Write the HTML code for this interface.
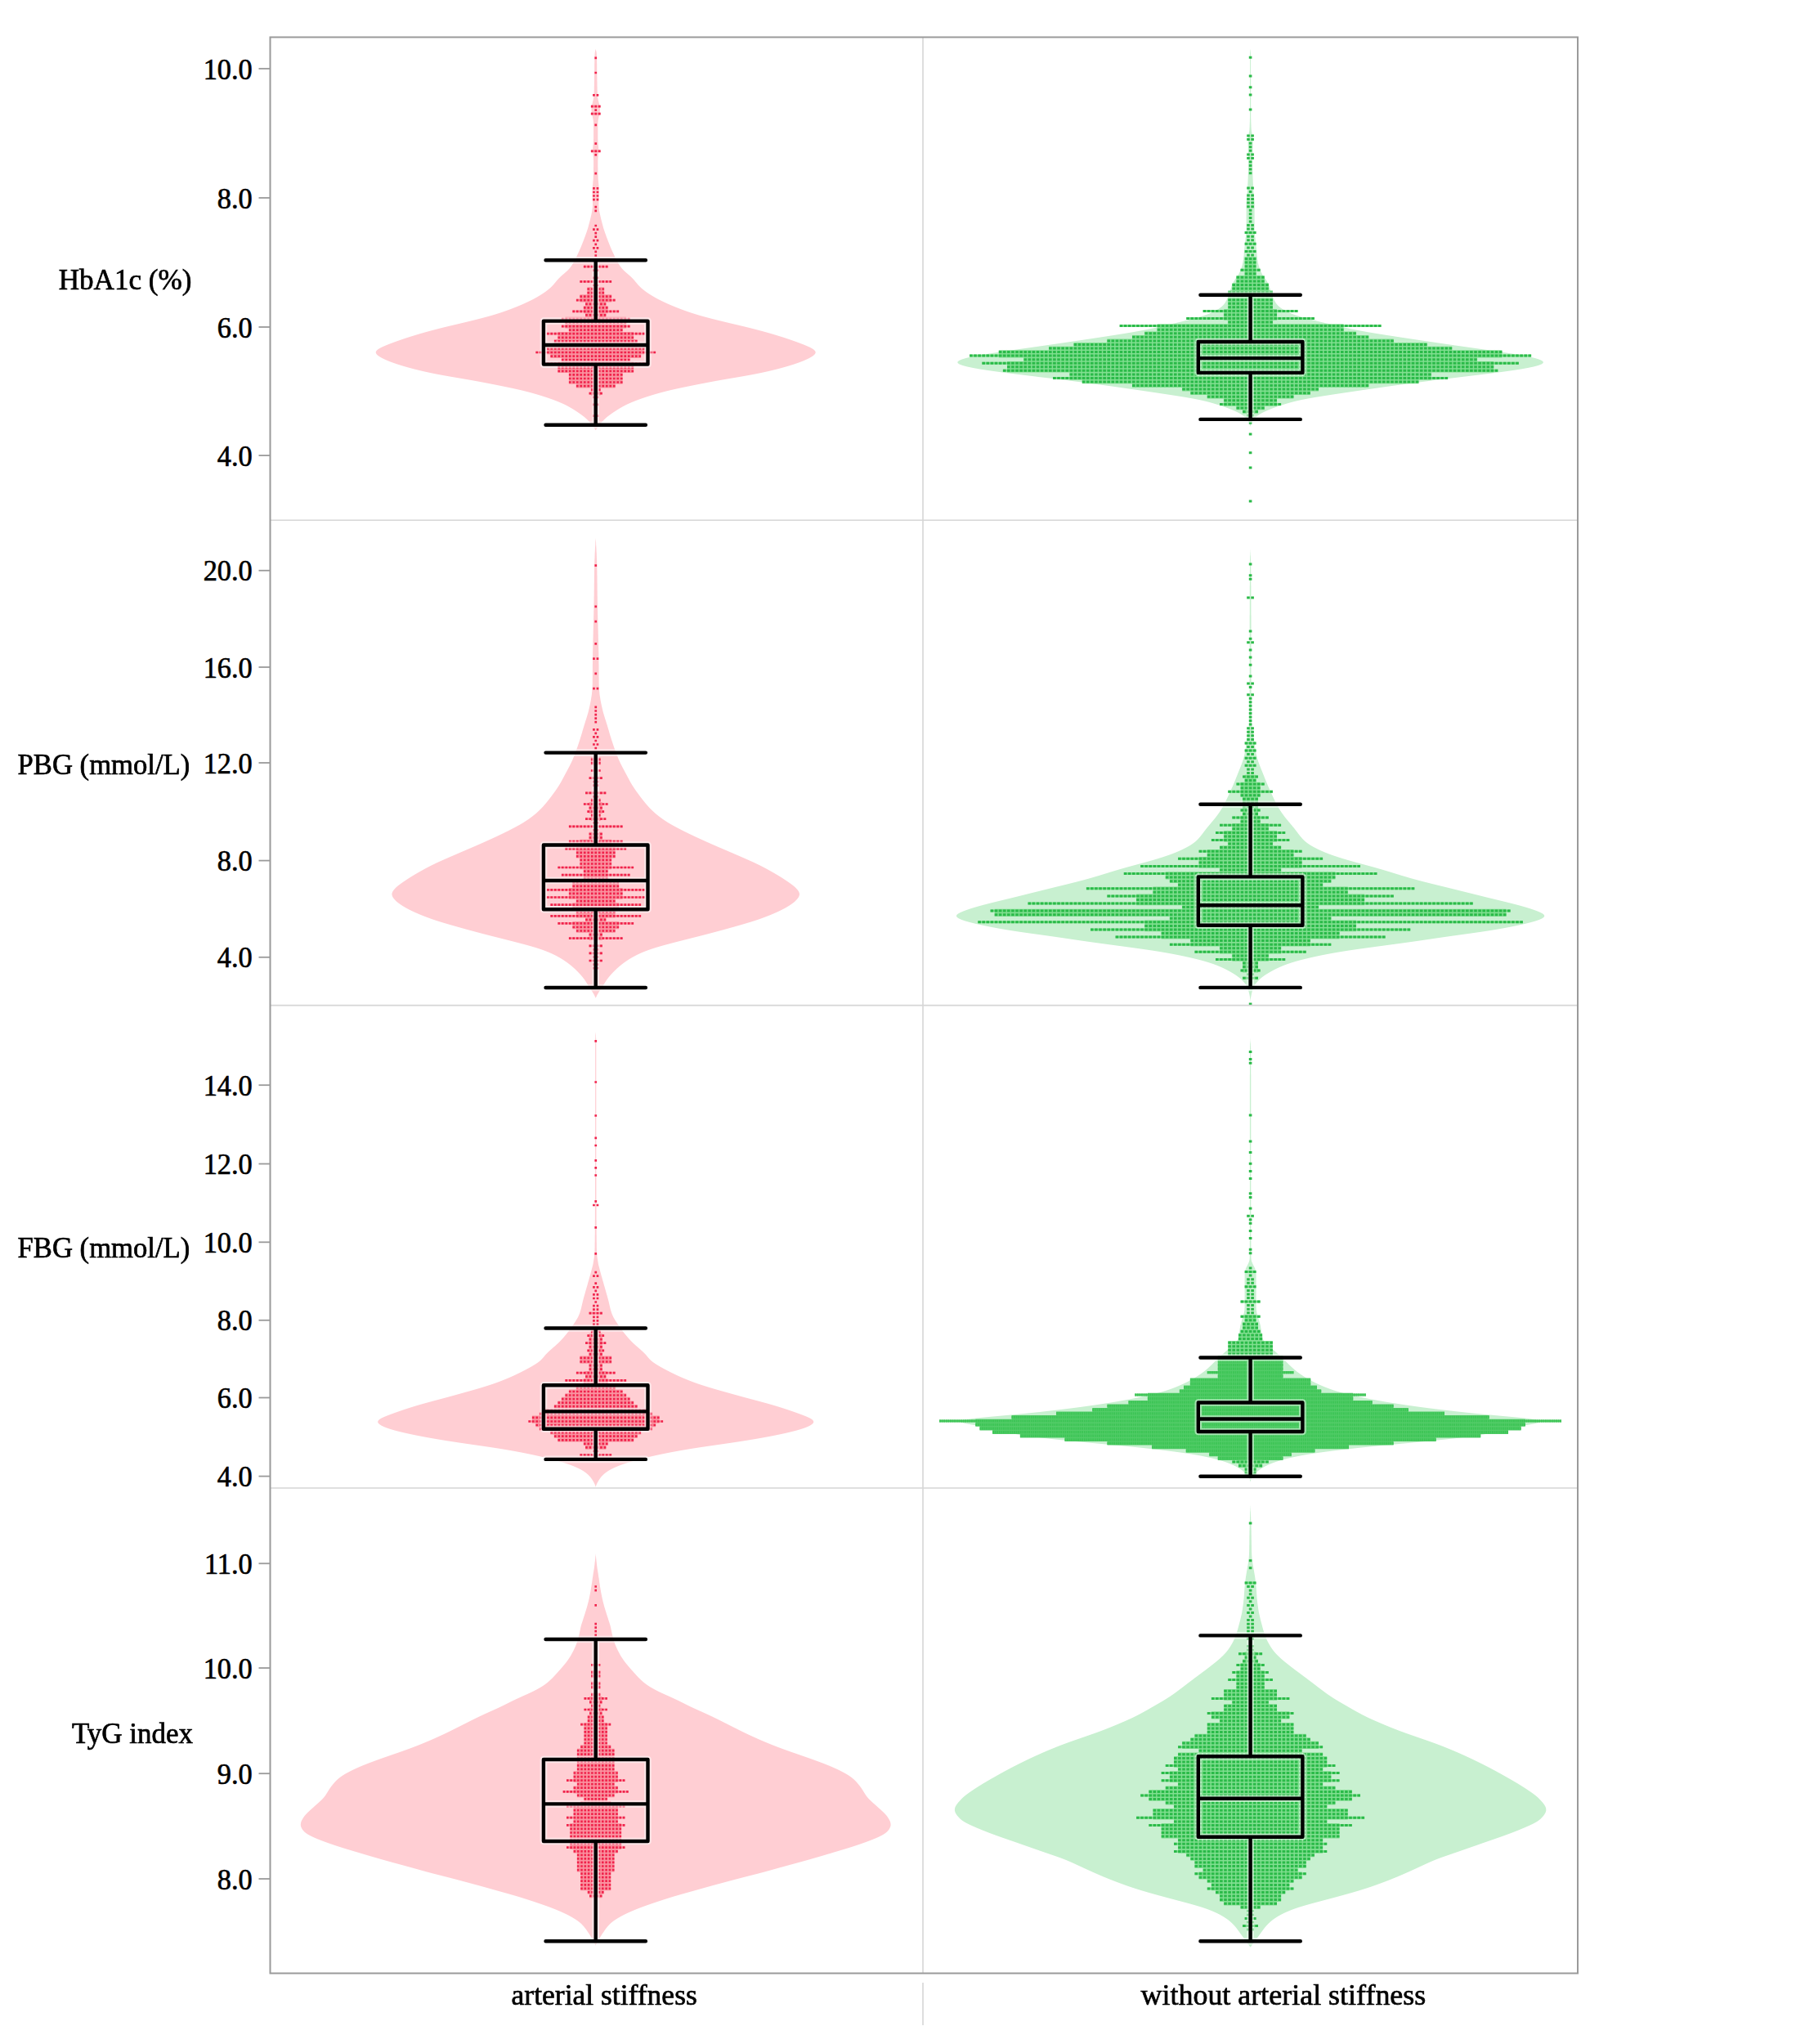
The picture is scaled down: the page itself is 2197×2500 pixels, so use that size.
<!DOCTYPE html>
<html lang="en">
<head>
<meta charset="utf-8">
<title>Violin plots</title>
<style>html,body{margin:0;padding:0;background:#fff}svg{display:block}</style>
</head>
<body>
<svg width="2197" height="2500" viewBox="0 0 2197 2500">
<defs><filter id="sb" x="-5%" y="-5%" width="110%" height="110%"><feGaussianBlur stdDeviation="0.6"/></filter></defs>
<rect width="2197" height="2500" fill="#fff"/>
<g id="v1L">
<path d="M728.7 60L728.3 61.5L728 63L727.7 64.5L727.6 66L727.5 67.5L727.4 69L727.4 70.5L727.3 72L727.3 73.5L727.3 75L727.3 76.5L727.2 78L727.2 79.5L727.2 81L727.2 82.5L727.2 84L727.2 85.5L727.1 87L727.1 88.5L727.1 90L727.1 91.5L727.1 93L727 94.5L727 96L727 97.5L727 99L726.9 100.5L726.9 102L726.9 103.5L726.9 105L726.8 106.5L726.8 108L726.8 109.5L726.7 111L726.7 112.5L726.6 114L726.6 115.5L726.5 117L726.3 118.5L726.1 120L725.8 121.5L725.5 123L725.1 124.5L724.7 126L724.4 127.5L724 129L723.7 130.5L723.5 132L723.4 133.5L723.5 135L723.6 136.5L723.8 138L724.1 139.5L724.4 141L724.8 142.5L725.1 144L725.4 145.5L725.7 147L725.9 148.5L726 150L726.1 151.5L726.1 153L726.1 154.5L726.1 156L726.1 157.5L726.1 159L726.1 160.5L726.1 162L726.1 163.5L726.1 165L726.1 166.5L726.1 168L726.1 169.5L726 171L726 172.5L725.9 174L725.7 175.5L725.6 177L725.5 178.5L725.3 180L725.2 181.5L725.2 183L725.2 184.5L725.3 186L725.4 187.5L725.5 189L725.7 190.5L725.8 192L725.9 193.5L726 195L726.1 196.5L726.1 198L726.1 199.5L726.1 201L726.1 202.5L726.1 204L726 205.5L726 207L726 208.5L726 210L726 211.5L725.9 213L725.9 214.5L725.8 216L725.8 217.5L725.7 219L725.6 220.5L725.4 222L725.3 223.5L725.2 225L725 226.5L724.9 228L724.8 229.5L724.7 231L724.6 232.5L724.6 234L724.5 235.5L724.6 237L724.6 238.5L724.7 240L724.7 241.5L724.8 243L724.9 244.5L725 246L725 247.5L725 249L725 250.5L725 252L724.9 253.5L724.7 255L724.5 256.5L724.3 258L724 259.5L723.7 261L723.4 262.5L723 264L722.7 265.5L722.3 267L722 268.5L721.6 270L721.2 271.5L720.8 273L720.4 274.5L720 276L719.6 277.5L719.2 279L718.7 280.5L718.2 282L717.7 283.5L717.2 285L716.6 286.5L716.1 288L715.6 289.5L715 291L714.4 292.5L713.9 294L713.3 295.5L712.7 297L712.1 298.5L711.5 300L710.9 301.5L710.3 303L709.6 304.5L709 306L708.3 307.5L707.6 309L706.9 310.5L706.2 312L705.5 313.5L704.7 315L704 316.5L703.2 318L702.4 319.5L701.6 321L700.7 322.5L699.8 324L698.8 325.5L697.7 327L696.5 328.5L695.1 330L693.6 331.5L691.9 333L690.2 334.5L688.4 336L686.7 337.5L685.1 339L683.6 340.5L682.2 342L680.9 343.5L679.7 345L678.4 346.5L677.2 348L675.8 349.5L674.3 351L672.7 352.5L670.9 354L669 355.5L667 357L664.8 358.5L662.5 360L660.1 361.5L657.6 363L655 364.5L652.2 366L649.2 367.5L646.1 369L642.9 370.5L639.6 372L636.1 373.5L632.5 375L628.7 376.5L624.9 378L620.8 379.5L616.6 381L612.2 382.5L607.5 384L602.6 385.5L597.3 387L591.7 388.5L586 390L580 391.5L573.9 393L567.7 394.5L561.4 396L555 397.5L548.7 399L542.5 400.5L536.5 402L530.8 403.5L525.1 405L519.7 406.5L514.4 408L509.4 409.5L504.5 411L499.7 412.5L495.1 414L490.7 415.5L486.4 417L482.2 418.5L478.2 420L474.3 421.5L470.7 423L467.3 424.5L464.4 426L462.1 427.5L460.5 429L459.7 430.5L459.9 432L460.9 433.5L462.5 435L464.8 436.5L467.4 438L470.5 439.5L473.9 441L477.6 442.5L481.7 444L486.1 445.5L490.9 447L495.9 448.5L501.3 450L506.9 451.5L513 453L519.4 454.5L526.3 456L533.7 457.5L541.7 459L550.2 460.5L558.9 462L567.8 463.5L576.4 465L584.7 466.5L592.6 468L600.4 469.5L608 471L615.4 472.5L622.7 474L629.7 475.5L636.4 477L642.5 478.5L648.3 480L653.7 481.5L658.8 483L663.7 484.5L668.3 486L672.7 487.5L676.9 489L680.8 490.5L684.5 492L688 493.5L691.2 495L694.1 496.5L696.8 498L699.4 499.5L701.9 501L704.2 502.5L706.5 504L708.7 505.5L710.8 507L712.8 508.5L714.8 510L716.5 511.5L718.1 513L719.6 514.5L721 516L722.3 517.5L723.5 519L724.7 520.5L725.8 522L726.8 523.5L727.9 525L728.7 526.2L728.7 526.2L729.5 525L730.6 523.5L731.6 522L732.7 520.5L733.9 519L735.1 517.5L736.4 516L737.8 514.5L739.3 513L740.9 511.5L742.6 510L744.6 508.5L746.6 507L748.7 505.5L750.9 504L753.2 502.5L755.5 501L758 499.5L760.6 498L763.3 496.5L766.2 495L769.4 493.5L772.9 492L776.6 490.5L780.5 489L784.7 487.5L789.1 486L793.7 484.5L798.6 483L803.7 481.5L809.1 480L814.9 478.5L821 477L827.7 475.5L834.7 474L842 472.5L849.4 471L857 469.5L864.8 468L872.7 466.5L881 465L889.6 463.5L898.5 462L907.2 460.5L915.7 459L923.7 457.5L931.1 456L938 454.5L944.4 453L950.5 451.5L956.1 450L961.5 448.5L966.5 447L971.3 445.5L975.7 444L979.8 442.5L983.5 441L986.9 439.5L990 438L992.6 436.5L994.9 435L996.5 433.5L997.5 432L997.7 430.5L996.9 429L995.3 427.5L993 426L990.1 424.5L986.7 423L983.1 421.5L979.2 420L975.2 418.5L971 417L966.7 415.5L962.3 414L957.7 412.5L952.9 411L948 409.5L943 408L937.7 406.5L932.3 405L926.6 403.5L920.9 402L914.9 400.5L908.7 399L902.4 397.5L896 396L889.7 394.5L883.5 393L877.4 391.5L871.4 390L865.7 388.5L860.1 387L854.8 385.5L849.9 384L845.2 382.5L840.8 381L836.6 379.5L832.5 378L828.7 376.5L824.9 375L821.3 373.5L817.8 372L814.5 370.5L811.3 369L808.2 367.5L805.2 366L802.4 364.5L799.8 363L797.3 361.5L794.9 360L792.6 358.5L790.4 357L788.4 355.5L786.5 354L784.7 352.5L783.1 351L781.6 349.5L780.2 348L779 346.5L777.7 345L776.5 343.5L775.2 342L773.8 340.5L772.3 339L770.7 337.5L769 336L767.2 334.5L765.5 333L763.8 331.5L762.3 330L760.9 328.5L759.7 327L758.6 325.5L757.6 324L756.7 322.5L755.8 321L755 319.5L754.2 318L753.4 316.5L752.7 315L751.9 313.5L751.2 312L750.5 310.5L749.8 309L749.1 307.5L748.4 306L747.8 304.5L747.1 303L746.5 301.5L745.9 300L745.3 298.5L744.7 297L744.1 295.5L743.5 294L743 292.5L742.4 291L741.8 289.5L741.3 288L740.8 286.5L740.2 285L739.7 283.5L739.2 282L738.7 280.5L738.2 279L737.8 277.5L737.4 276L737 274.5L736.6 273L736.2 271.5L735.8 270L735.4 268.5L735.1 267L734.7 265.5L734.4 264L734 262.5L733.7 261L733.4 259.5L733.1 258L732.9 256.5L732.7 255L732.5 253.5L732.4 252L732.4 250.5L732.4 249L732.4 247.5L732.4 246L732.5 244.5L732.6 243L732.7 241.5L732.7 240L732.8 238.5L732.8 237L732.9 235.5L732.8 234L732.8 232.5L732.7 231L732.6 229.5L732.5 228L732.4 226.5L732.2 225L732.1 223.5L732 222L731.8 220.5L731.7 219L731.6 217.5L731.6 216L731.5 214.5L731.5 213L731.4 211.5L731.4 210L731.4 208.5L731.4 207L731.4 205.5L731.3 204L731.3 202.5L731.3 201L731.3 199.5L731.3 198L731.3 196.5L731.4 195L731.5 193.5L731.6 192L731.7 190.5L731.9 189L732 187.5L732.1 186L732.2 184.5L732.2 183L732.2 181.5L732.1 180L731.9 178.5L731.8 177L731.7 175.5L731.5 174L731.4 172.5L731.4 171L731.3 169.5L731.3 168L731.3 166.5L731.3 165L731.3 163.5L731.3 162L731.3 160.5L731.3 159L731.3 157.5L731.3 156L731.3 154.5L731.3 153L731.3 151.5L731.4 150L731.5 148.5L731.7 147L732 145.5L732.3 144L732.6 142.5L733 141L733.3 139.5L733.6 138L733.8 136.5L733.9 135L734 133.5L733.9 132L733.7 130.5L733.4 129L733 127.5L732.7 126L732.3 124.5L731.9 123L731.6 121.5L731.3 120L731.1 118.5L730.9 117L730.8 115.5L730.8 114L730.7 112.5L730.7 111L730.6 109.5L730.6 108L730.6 106.5L730.5 105L730.5 103.5L730.5 102L730.5 100.5L730.4 99L730.4 97.5L730.4 96L730.4 94.5L730.3 93L730.3 91.5L730.3 90L730.3 88.5L730.3 87L730.2 85.5L730.2 84L730.2 82.5L730.2 81L730.2 79.5L730.2 78L730.1 76.5L730.1 75L730.1 73.5L730.1 72L730 70.5L730 69L729.9 67.5L729.8 66L729.7 64.5L729.4 63L729.1 61.5L728.7 60Z" fill="#ffced3"/>
<g filter="url(#sb)">
<path d="M718.4 353.5H739.1M718.4 358.1H739.1M709.4 362.6H748.1M709.4 367.2H748.1M716.1 371.8H741.3M713.9 376.3H743.6M713.9 380.9H743.6M716.1 385.4H741.3M691.4 390H766.1M691.4 394.6H766.1M691.4 399.1H766.1M695.9 403.7H761.6M682.4 408.2H775.1M682.4 412.8H775.1M677.9 417.4H779.6M677.9 421.9H779.6M668.9 426.5H788.6M668.9 431H788.6M673.4 435.6H784.1M686.9 440.2H770.6M682.4 444.7H775.1M682.4 449.3H775.1M682.4 453.8H775.1M695.9 458.4H761.6M695.9 463H761.6M695.9 467.5H761.6M704.9 472.1H752.6M722.9 476.6H734.6M722.9 481.2H734.6" stroke="#f98896" stroke-width="4.6" fill="none" opacity="0.85"/>
<path d="M722.9 130.1H734.6M722.9 139.2H734.6M722.9 184.8H734.6M713.9 326.2H743.6M709.4 344.4H748.1M704.9 367.2H752.6M700.4 380.9H757.1M686.9 390H770.6M686.9 399.1H770.6M668.9 408.2H788.6M655.4 431H802.1M664.4 444.7H793.1M720.6 481.2H736.8" stroke="#f98896" stroke-width="2.7" fill="none" opacity="0.85"/>
<path d="M727.4 70.8H730.1M727.4 89H730.1M725.1 116.4H732.3M722.9 130.1H734.6M727.4 134.6H730.1M722.9 139.2H734.6M727.4 152.9H730.1M727.4 175.7H730.1M722.9 184.8H734.6M727.4 189.4H730.1M727.4 212.2H730.1M725.1 230.4H732.3M725.1 235H732.3M725.1 239.5H732.3M725.1 244.1H732.3M727.4 253.2H730.1M727.4 257.8H730.1M727.4 276H730.1M725.1 280.6H732.3M727.4 285.1H730.1M727.4 289.7H730.1M725.1 294.2H732.3M727.4 298.8H730.1M725.1 303.4H732.3M727.4 307.9H730.1M727.4 312.5H730.1M713.9 326.2H743.6M725.1 330.7H732.3M727.4 335.3H730.1M725.1 339.8H732.3M709.4 344.4H748.1M725.1 349H732.3M718.4 353.5H739.1M718.4 358.1H739.1M709.4 362.6H748.1M704.9 367.2H752.6M716.1 371.8H741.3M713.9 376.3H743.6M700.4 380.9H757.1M716.1 385.4H741.3M686.9 390H770.6M691.4 394.6H766.1M686.9 399.1H770.6M695.9 403.7H761.6M668.9 408.2H788.6M682.4 412.8H775.1M677.9 417.4H779.6M677.9 421.9H779.6M668.9 426.5H788.6M655.4 431H802.1M673.4 435.6H784.1M686.9 440.2H770.6M664.4 444.7H793.1M682.4 449.3H775.1M682.4 453.8H775.1M695.9 458.4H761.6M695.9 463H761.6M695.9 467.5H761.6M704.9 472.1H752.6M722.9 476.6H734.6M720.6 481.2H736.8M725.1 485.8H732.3M727.4 490.3H730.1M725.1 494.9H732.3M727.4 499.4H730.1M727.4 504H730.1M725.1 508.6H732.3M727.4 513.1H730.1M727.4 517.7H730.1" stroke="#f0244c" stroke-width="2.7" stroke-dasharray="2.7 1.8" fill="none"/>
</g>
</g>
<g id="v1R">
<path d="M1529.6 60L1529.4 61.5L1529.3 63L1529.2 64.5L1529.1 66L1529.1 67.5L1529.1 69L1529.1 70.5L1529.1 72L1529.1 73.5L1529.1 75L1529.1 76.5L1529.1 78L1529.1 79.5L1529.1 81L1529.1 82.5L1529.1 84L1529.1 85.5L1529.1 87L1529.1 88.5L1529.1 90L1529.1 91.5L1529 93L1529 94.5L1529 96L1529 97.5L1529 99L1529 100.5L1529 102L1529 103.5L1529 105L1529 106.5L1529 108L1529 109.5L1529 111L1529 112.5L1529 114L1529 115.5L1529 117L1529 118.5L1529 120L1529 121.5L1529 123L1529 124.5L1529 126L1529 127.5L1529 129L1529 130.5L1529 132L1529 133.5L1529 135L1529 136.5L1529 138L1529 139.5L1529 141L1529 142.5L1529 144L1528.9 145.5L1528.9 147L1528.9 148.5L1528.8 150L1528.8 151.5L1528.7 153L1528.7 154.5L1528.6 156L1528.5 157.5L1528.4 159L1528.2 160.5L1527.9 162L1527.6 163.5L1527.2 165L1527 166.5L1526.8 168L1526.7 169.5L1526.6 171L1526.6 172.5L1526.7 174L1526.7 175.5L1526.7 177L1526.7 178.5L1526.8 180L1526.8 181.5L1526.8 183L1526.9 184.5L1526.9 186L1526.9 187.5L1527 189L1527 190.5L1527 192L1527 193.5L1527.1 195L1527.1 196.5L1527.1 198L1527.1 199.5L1527.1 201L1527.1 202.5L1527.1 204L1527 205.5L1527 207L1527 208.5L1526.9 210L1526.9 211.5L1526.8 213L1526.8 214.5L1526.7 216L1526.7 217.5L1526.6 219L1526.5 220.5L1526.5 222L1526.4 223.5L1526.3 225L1526.3 226.5L1526.2 228L1526.1 229.5L1526 231L1525.9 232.5L1525.8 234L1525.7 235.5L1525.5 237L1525.4 238.5L1525.2 240L1525.1 241.5L1525 243L1524.9 244.5L1524.8 246L1524.7 247.5L1524.6 249L1524.6 250.5L1524.6 252L1524.6 253.5L1524.6 255L1524.6 256.5L1524.6 258L1524.6 259.5L1524.6 261L1524.6 262.5L1524.6 264L1524.6 265.5L1524.6 267L1524.6 268.5L1524.6 270L1524.6 271.5L1524.6 273L1524.6 274.5L1524.6 276L1524.6 277.5L1524.6 279L1524.6 280.5L1524.5 282L1524.4 283.5L1524.3 285L1524.2 286.5L1524.1 288L1523.9 289.5L1523.7 291L1523.5 292.5L1523.3 294L1523.1 295.5L1523 297L1522.8 298.5L1522.6 300L1522.5 301.5L1522.3 303L1522.2 304.5L1522.1 306L1521.9 307.5L1521.8 309L1521.7 310.5L1521.6 312L1521.4 313.5L1521.2 315L1521.1 316.5L1520.9 318L1520.6 319.5L1520.4 321L1520 322.5L1519.7 324L1519.2 325.5L1518.8 327L1518.3 328.5L1517.7 330L1517.1 331.5L1516.4 333L1515.7 334.5L1514.8 336L1513.9 337.5L1512.8 339L1511.8 340.5L1510.7 342L1509.7 343.5L1508.8 345L1508.1 346.5L1507.4 348L1506.8 349.5L1506.3 351L1505.8 352.5L1505.3 354L1504.8 355.5L1504.3 357L1503.8 358.5L1503.3 360L1502.7 361.5L1502.2 363L1501.5 364.5L1500.9 366L1500.2 367.5L1499.4 369L1498.5 370.5L1497.4 372L1496.1 373.5L1494.5 375L1492.6 376.5L1490.4 378L1487.8 379.5L1484.9 381L1481.7 382.5L1478.2 384L1474.2 385.5L1469.6 387L1464.5 388.5L1459 390L1453 391.5L1446.9 393L1440.6 394.5L1434.4 396L1428 397.5L1421.6 399L1414.9 400.5L1407.9 402L1400.5 403.5L1392.6 405L1384.1 406.5L1375.1 408L1365.7 409.5L1356 411L1346.2 412.5L1336.3 414L1326.3 415.5L1316.3 417L1306.1 418.5L1295.9 420L1285.6 421.5L1275.2 423L1264.7 424.5L1254.1 426L1243.6 427.5L1233.2 429L1223.1 430.5L1213.4 432L1204 433.5L1195.4 435L1187.9 436.5L1181.6 438L1176.7 439.5L1173.2 441L1171.4 442.5L1171.5 444L1173.6 445.5L1177.6 447L1183.2 448.5L1190.4 450L1198.8 451.5L1208.5 453L1219.1 454.5L1230.3 456L1242.1 457.5L1254.3 459L1266.7 460.5L1279.1 462L1291.4 463.5L1303.5 465L1315.4 466.5L1327 468L1338.3 469.5L1349.3 471L1360.1 472.5L1370.7 474L1381.1 475.5L1391.5 477L1401.8 478.5L1411.9 480L1421.9 481.5L1431.8 483L1441.5 484.5L1450.8 486L1459.3 487.5L1467 489L1473.7 490.5L1479.6 492L1484.8 493.5L1489.7 495L1494.3 496.5L1498.7 498L1502.8 499.5L1506.6 501L1510.1 502.5L1513.3 504L1516.2 505.5L1518.7 507L1520.9 508.5L1522.7 510L1524.2 511.5L1525.5 513L1526.6 514.5L1527.5 516L1528.2 517.5L1528.8 519L1529.3 520.5L1529.6 522L1529.6 522L1529.9 520.5L1530.4 519L1531 517.5L1531.7 516L1532.6 514.5L1533.7 513L1535 511.5L1536.5 510L1538.3 508.5L1540.5 507L1543 505.5L1545.9 504L1549.1 502.5L1552.6 501L1556.4 499.5L1560.5 498L1564.9 496.5L1569.5 495L1574.4 493.5L1579.6 492L1585.5 490.5L1592.2 489L1599.9 487.5L1608.4 486L1617.7 484.5L1627.4 483L1637.3 481.5L1647.3 480L1657.4 478.5L1667.7 477L1678.1 475.5L1688.5 474L1699.1 472.5L1709.9 471L1720.9 469.5L1732.2 468L1743.8 466.5L1755.7 465L1767.8 463.5L1780.1 462L1792.5 460.5L1804.9 459L1817.1 457.5L1828.9 456L1840.1 454.5L1850.7 453L1860.4 451.5L1868.8 450L1876 448.5L1881.6 447L1885.6 445.5L1887.7 444L1887.8 442.5L1886 441L1882.5 439.5L1877.6 438L1871.3 436.5L1863.8 435L1855.2 433.5L1845.8 432L1836.1 430.5L1826 429L1815.6 427.5L1805.1 426L1794.5 424.5L1784 423L1773.6 421.5L1763.3 420L1753.1 418.5L1742.9 417L1732.9 415.5L1722.9 414L1713 412.5L1703.2 411L1693.5 409.5L1684.1 408L1675.1 406.5L1666.6 405L1658.7 403.5L1651.3 402L1644.3 400.5L1637.6 399L1631.2 397.5L1624.8 396L1618.6 394.5L1612.3 393L1606.2 391.5L1600.2 390L1594.7 388.5L1589.6 387L1585 385.5L1581 384L1577.5 382.5L1574.3 381L1571.4 379.5L1568.8 378L1566.6 376.5L1564.7 375L1563.1 373.5L1561.8 372L1560.7 370.5L1559.8 369L1559 367.5L1558.3 366L1557.7 364.5L1557 363L1556.5 361.5L1555.9 360L1555.4 358.5L1554.9 357L1554.4 355.5L1553.9 354L1553.4 352.5L1552.9 351L1552.4 349.5L1551.8 348L1551.1 346.5L1550.4 345L1549.5 343.5L1548.5 342L1547.4 340.5L1546.4 339L1545.3 337.5L1544.4 336L1543.5 334.5L1542.8 333L1542.1 331.5L1541.5 330L1540.9 328.5L1540.4 327L1540 325.5L1539.5 324L1539.2 322.5L1538.8 321L1538.6 319.5L1538.3 318L1538.1 316.5L1538 315L1537.8 313.5L1537.6 312L1537.5 310.5L1537.4 309L1537.3 307.5L1537.1 306L1537 304.5L1536.9 303L1536.7 301.5L1536.6 300L1536.4 298.5L1536.2 297L1536.1 295.5L1535.9 294L1535.7 292.5L1535.5 291L1535.3 289.5L1535.1 288L1535 286.5L1534.9 285L1534.8 283.5L1534.7 282L1534.6 280.5L1534.6 279L1534.6 277.5L1534.6 276L1534.6 274.5L1534.6 273L1534.6 271.5L1534.6 270L1534.6 268.5L1534.6 267L1534.6 265.5L1534.6 264L1534.6 262.5L1534.6 261L1534.6 259.5L1534.6 258L1534.6 256.5L1534.6 255L1534.6 253.5L1534.6 252L1534.6 250.5L1534.6 249L1534.5 247.5L1534.4 246L1534.3 244.5L1534.2 243L1534.1 241.5L1534 240L1533.8 238.5L1533.7 237L1533.5 235.5L1533.4 234L1533.3 232.5L1533.2 231L1533.1 229.5L1533 228L1532.9 226.5L1532.9 225L1532.8 223.5L1532.7 222L1532.7 220.5L1532.6 219L1532.5 217.5L1532.5 216L1532.4 214.5L1532.4 213L1532.3 211.5L1532.3 210L1532.2 208.5L1532.2 207L1532.2 205.5L1532.1 204L1532.1 202.5L1532.1 201L1532.1 199.5L1532.1 198L1532.1 196.5L1532.1 195L1532.2 193.5L1532.2 192L1532.2 190.5L1532.2 189L1532.3 187.5L1532.3 186L1532.3 184.5L1532.4 183L1532.4 181.5L1532.4 180L1532.5 178.5L1532.5 177L1532.5 175.5L1532.5 174L1532.6 172.5L1532.6 171L1532.5 169.5L1532.4 168L1532.2 166.5L1532 165L1531.6 163.5L1531.3 162L1531 160.5L1530.8 159L1530.7 157.5L1530.6 156L1530.5 154.5L1530.5 153L1530.4 151.5L1530.4 150L1530.3 148.5L1530.3 147L1530.3 145.5L1530.2 144L1530.2 142.5L1530.2 141L1530.2 139.5L1530.2 138L1530.2 136.5L1530.2 135L1530.2 133.5L1530.2 132L1530.2 130.5L1530.2 129L1530.2 127.5L1530.2 126L1530.2 124.5L1530.2 123L1530.2 121.5L1530.2 120L1530.2 118.5L1530.2 117L1530.2 115.5L1530.2 114L1530.2 112.5L1530.2 111L1530.2 109.5L1530.2 108L1530.2 106.5L1530.2 105L1530.2 103.5L1530.2 102L1530.2 100.5L1530.2 99L1530.2 97.5L1530.2 96L1530.2 94.5L1530.2 93L1530.1 91.5L1530.1 90L1530.1 88.5L1530.1 87L1530.1 85.5L1530.1 84L1530.1 82.5L1530.1 81L1530.1 79.5L1530.1 78L1530.1 76.5L1530.1 75L1530.1 73.5L1530.1 72L1530.1 70.5L1530.1 69L1530.1 67.5L1530.1 66L1530 64.5L1529.9 63L1529.8 61.5L1529.6 60Z" fill="#c8f0d0"/>
<g filter="url(#sb)">
<path d="M1522.7 316.5H1536.5M1522.7 321.1H1536.5M1522.7 325.7H1536.5M1522.7 330.2H1536.5M1522.7 334.8H1536.5M1512.5 339.3H1546.7M1512.5 343.9H1546.7M1507.4 348.5H1551.8M1507.4 353H1551.8M1502.3 357.6H1556.9M1502.3 362.1H1556.9M1502.3 366.7H1556.9M1502.3 371.3H1556.9M1502.3 375.8H1556.9M1497.2 380.4H1562M1497.2 384.9H1562M1497.2 389.5H1562M1502.3 394.1H1556.9M1415.6 398.6H1643.6M1415.6 403.2H1643.6M1400.3 407.7H1658.9M1385 412.3H1674.2M1354.4 416.9H1704.8M1313.6 421.4H1745.6M1283 426H1776.2M1221.8 430.5H1837.4M1221.8 435.1H1837.4M1252.4 439.7H1806.8M1232 444.2H1827.2M1232 448.8H1827.2M1232 453.3H1827.2M1308.5 457.9H1750.7M1308.5 462.5H1750.7M1323.8 467H1735.4M1385 471.6H1674.2M1446.2 476.1H1613M1456.4 480.7H1602.8M1476.8 485.3H1582.4M1497.2 489.8H1562M1497.2 494.4H1562M1512.5 498.9H1546.7M1520.1 503.5H1539" stroke="#74dc86" stroke-width="4.6" fill="none" opacity="0.85"/>
<path d="M1522.7 284.6H1536.5M1522.7 298.3H1536.5M1522.7 307.4H1536.5M1517.6 330.2H1541.6M1471.7 380.4H1587.5M1451.3 389.5H1607.9M1369.7 398.6H1689.5M1186.1 435.1H1873.1M1201.4 444.2H1857.8M1226.9 453.3H1832.3M1288.1 462.5H1771.1M1492.1 494.4H1567.1" stroke="#74dc86" stroke-width="3" fill="none" opacity="0.85"/>
<path d="M1527.8 70.3H1531.4M1527.8 93.1H1531.4M1527.8 106.8H1531.4M1527.8 115.9H1531.4M1527.8 134.1H1531.4M1525.2 166.1H1533.9M1525.2 170.6H1533.9M1527.8 175.2H1531.4M1527.8 179.7H1531.4M1527.8 184.3H1531.4M1525.2 188.9H1533.9M1525.2 193.4H1533.9M1527.8 198H1531.4M1527.8 202.5H1531.4M1527.8 207.1H1531.4M1527.8 211.7H1531.4M1525.2 229.9H1533.9M1527.8 234.5H1531.4M1525.2 239H1533.9M1525.2 243.6H1533.9M1525.2 248.1H1533.9M1525.2 252.7H1533.9M1527.8 257.3H1531.4M1527.8 261.8H1531.4M1527.8 266.4H1531.4M1527.8 270.9H1531.4M1525.2 275.5H1533.9M1525.2 280.1H1533.9M1522.7 284.6H1536.5M1525.2 289.2H1533.9M1525.2 293.7H1533.9M1522.7 298.3H1536.5M1525.2 302.9H1533.9M1522.7 307.4H1536.5M1525.2 312H1533.9M1522.7 316.5H1536.5M1522.7 321.1H1536.5M1522.7 325.7H1536.5M1517.6 330.2H1541.6M1522.7 334.8H1536.5M1512.5 339.3H1546.7M1512.5 343.9H1546.7M1507.4 348.5H1551.8M1507.4 353H1551.8M1502.3 357.6H1556.9M1502.3 362.1H1556.9M1502.3 366.7H1556.9M1502.3 371.3H1556.9M1502.3 375.8H1556.9M1471.7 380.4H1587.5M1497.2 384.9H1562M1451.3 389.5H1607.9M1502.3 394.1H1556.9M1369.7 398.6H1689.5M1415.6 403.2H1643.6M1400.3 407.7H1658.9M1385 412.3H1674.2M1354.4 416.9H1704.8M1313.6 421.4H1745.6M1283 426H1776.2M1221.8 430.5H1837.4M1186.1 435.1H1873.1M1252.4 439.7H1806.8M1201.4 444.2H1857.8M1232 448.8H1827.2M1226.9 453.3H1832.3M1308.5 457.9H1750.7M1288.1 462.5H1771.1M1323.8 467H1735.4M1385 471.6H1674.2M1446.2 476.1H1613M1456.4 480.7H1602.8M1476.8 485.3H1582.4M1497.2 489.8H1562M1492.1 494.4H1567.1M1512.5 498.9H1546.7M1520.1 503.5H1539M1525.2 508.1H1533.9M1527.8 512.6H1531.4M1527.8 517.2H1531.4M1527.8 530.9H1531.4M1527.8 553.7H1531.4M1527.8 571.9H1531.4M1527.8 612.9H1531.4" stroke="#2cba48" stroke-width="3" stroke-dasharray="3.6 1.5" fill="none"/>
</g>
</g>
<g id="v2L">
<path d="M728.7 658L728.6 659.5L728.5 661L728.4 662.5L728.3 664L728.3 665.5L728.2 667L728.1 668.5L728 670L727.9 671.5L727.9 673L727.8 674.5L727.7 676L727.6 677.5L727.6 679L727.5 680.5L727.5 682L727.4 683.5L727.3 685L727.3 686.5L727.3 688L727.2 689.5L727.2 691L727.1 692.5L727.1 694L727.1 695.5L727.1 697L727 698.5L727 700L727 701.5L727 703L726.9 704.5L726.9 706L726.9 707.5L726.9 709L726.9 710.5L726.9 712L726.8 713.5L726.8 715L726.8 716.5L726.8 718L726.8 719.5L726.8 721L726.7 722.5L726.7 724L726.7 725.5L726.7 727L726.7 728.5L726.6 730L726.6 731.5L726.6 733L726.6 734.5L726.6 736L726.5 737.5L726.5 739L726.5 740.5L726.5 742L726.4 743.5L726.4 745L726.4 746.5L726.3 748L726.3 749.5L726.3 751L726.2 752.5L726.2 754L726.2 755.5L726.1 757L726.1 758.5L726.1 760L726 761.5L726 763L725.9 764.5L725.9 766L725.9 767.5L725.8 769L725.8 770.5L725.7 772L725.7 773.5L725.7 775L725.6 776.5L725.6 778L725.6 779.5L725.5 781L725.5 782.5L725.4 784L725.4 785.5L725.4 787L725.3 788.5L725.3 790L725.3 791.5L725.2 793L725.2 794.5L725.2 796L725.1 797.5L725.1 799L725.1 800.5L725.1 802L725 803.5L725 805L725 806.5L725 808L725 809.5L725 811L724.9 812.5L724.9 814L724.9 815.5L724.9 817L724.9 818.5L724.9 820L724.9 821.5L724.9 823L724.9 824.5L724.9 826L724.9 827.5L724.8 829L724.8 830.5L724.8 832L724.8 833.5L724.8 835L724.8 836.5L724.7 838L724.7 839.5L724.6 841L724.6 842.5L724.4 844L724.3 845.5L724.1 847L724 848.5L723.8 850L723.6 851.5L723.3 853L723.1 854.5L722.9 856L722.6 857.5L722.3 859L722 860.5L721.7 862L721.4 863.5L721 865L720.7 866.5L720.3 868L720 869.5L719.6 871L719.2 872.5L718.7 874L718.3 875.5L717.8 877L717.4 878.5L716.9 880L716.4 881.5L715.9 883L715.5 884.5L715 886L714.5 887.5L714.1 889L713.6 890.5L713.2 892L712.7 893.5L712.3 895L711.9 896.5L711.4 898L711 899.5L710.5 901L710 902.5L709.6 904L709.1 905.5L708.6 907L708.1 908.5L707.6 910L707.1 911.5L706.6 913L706.1 914.5L705.5 916L705 917.5L704.4 919L703.9 920.5L703.3 922L702.7 923.5L702.1 925L701.5 926.5L700.9 928L700.3 929.5L699.6 931L698.9 932.5L698.2 934L697.4 935.5L696.7 937L695.9 938.5L695.1 940L694.3 941.5L693.5 943L692.7 944.5L691.9 946L691.1 947.5L690.3 949L689.5 950.5L688.7 952L687.9 953.5L687.1 955L686.3 956.5L685.4 958L684.5 959.5L683.6 961L682.6 962.5L681.6 964L680.6 965.5L679.6 967L678.5 968.5L677.4 970L676.3 971.5L675.2 973L674.1 974.5L672.9 976L671.8 977.5L670.6 979L669.4 980.5L668.2 982L666.9 983.5L665.6 985L664.3 986.5L662.9 988L661.4 989.5L659.9 991L658.3 992.5L656.7 994L655 995.5L653.1 997L651.2 998.5L649.2 1000L647.2 1001.5L645 1003L642.7 1004.5L640.4 1006L637.9 1007.5L635.3 1009L632.5 1010.5L629.8 1012L626.9 1013.5L624 1015L621.1 1016.5L618 1018L615 1019.5L611.8 1021L608.7 1022.5L605.5 1024L602.2 1025.5L598.9 1027L595.6 1028.5L592.3 1030L588.9 1031.5L585.5 1033L582.1 1034.5L578.6 1036L575.1 1037.5L571.6 1039L568.1 1040.5L564.6 1042L561.1 1043.5L557.7 1045L554.2 1046.5L550.7 1048L547.3 1049.5L543.9 1051L540.5 1052.5L537.1 1054L533.9 1055.5L530.8 1057L527.7 1058.5L524.8 1060L521.9 1061.5L519.1 1063L516.4 1064.5L513.7 1066L511.1 1067.5L508.5 1069L506 1070.5L503.5 1072L501.1 1073.5L498.8 1075L496.5 1076.5L494.3 1078L492.1 1079.5L490 1081L488 1082.5L486.1 1084L484.4 1085.5L483 1087L481.7 1088.5L480.6 1090L479.9 1091.5L479.4 1093L479.5 1094.5L479.9 1096L480.6 1097.5L481.7 1099L483 1100.5L484.4 1102L486.1 1103.5L488.1 1105L490.2 1106.5L492.5 1108L495 1109.5L497.6 1111L500.5 1112.5L503.5 1114L506.7 1115.5L510.1 1117L513.6 1118.5L517.3 1120L521.2 1121.5L525.2 1123L529.4 1124.5L533.9 1126L538.6 1127.5L543.6 1129L548.7 1130.5L553.9 1132L559.2 1133.5L564.5 1135L569.9 1136.5L575.4 1138L581 1139.5L586.6 1141L592.3 1142.5L598.1 1144L604 1145.5L610 1147L615.9 1148.5L621.8 1150L627.7 1151.5L633.5 1153L639.2 1154.5L644.8 1156L650.1 1157.5L655.2 1159L659.9 1160.5L664.2 1162L668.2 1163.5L671.9 1165L675.3 1166.5L678.4 1168L681.3 1169.5L684 1171L686.6 1172.5L689 1174L691.2 1175.5L693.4 1177L695.4 1178.5L697.3 1180L699.2 1181.5L700.9 1183L702.6 1184.5L704.2 1186L705.7 1187.5L707.2 1189L708.6 1190.5L710 1192L711.3 1193.5L712.6 1195L713.7 1196.5L714.9 1198L715.9 1199.5L716.9 1201L717.8 1202.5L718.7 1204L719.6 1205.5L720.6 1207L721.6 1208.5L722.6 1210L723.6 1211.5L724.6 1213L725.5 1214.5L726.4 1216L727.2 1217.5L727.9 1219L728.6 1220.5L728.7 1220.6L728.7 1220.6L728.8 1220.5L729.5 1219L730.2 1217.5L731 1216L731.9 1214.5L732.8 1213L733.8 1211.5L734.8 1210L735.8 1208.5L736.8 1207L737.8 1205.5L738.7 1204L739.6 1202.5L740.5 1201L741.5 1199.5L742.5 1198L743.7 1196.5L744.8 1195L746.1 1193.5L747.4 1192L748.8 1190.5L750.2 1189L751.7 1187.5L753.2 1186L754.8 1184.5L756.5 1183L758.2 1181.5L760.1 1180L762 1178.5L764 1177L766.2 1175.5L768.4 1174L770.8 1172.5L773.4 1171L776.1 1169.5L779 1168L782.1 1166.5L785.5 1165L789.2 1163.5L793.2 1162L797.5 1160.5L802.2 1159L807.3 1157.5L812.6 1156L818.2 1154.5L823.9 1153L829.7 1151.5L835.6 1150L841.5 1148.5L847.4 1147L853.4 1145.5L859.3 1144L865.1 1142.5L870.8 1141L876.4 1139.5L882 1138L887.5 1136.5L892.9 1135L898.2 1133.5L903.5 1132L908.7 1130.5L913.8 1129L918.8 1127.5L923.5 1126L928 1124.5L932.2 1123L936.2 1121.5L940.1 1120L943.8 1118.5L947.3 1117L950.7 1115.5L953.9 1114L956.9 1112.5L959.8 1111L962.4 1109.5L964.9 1108L967.2 1106.5L969.3 1105L971.3 1103.5L973 1102L974.4 1100.5L975.7 1099L976.8 1097.5L977.5 1096L977.9 1094.5L978 1093L977.5 1091.5L976.8 1090L975.7 1088.5L974.4 1087L973 1085.5L971.3 1084L969.4 1082.5L967.4 1081L965.3 1079.5L963.1 1078L960.9 1076.5L958.6 1075L956.3 1073.5L953.9 1072L951.4 1070.5L948.9 1069L946.3 1067.5L943.7 1066L941 1064.5L938.3 1063L935.5 1061.5L932.6 1060L929.7 1058.5L926.6 1057L923.5 1055.5L920.3 1054L916.9 1052.5L913.5 1051L910.1 1049.5L906.7 1048L903.2 1046.5L899.7 1045L896.3 1043.5L892.8 1042L889.3 1040.5L885.8 1039L882.3 1037.5L878.8 1036L875.3 1034.5L871.9 1033L868.5 1031.5L865.1 1030L861.8 1028.5L858.5 1027L855.2 1025.5L851.9 1024L848.7 1022.5L845.6 1021L842.4 1019.5L839.4 1018L836.3 1016.5L833.4 1015L830.5 1013.5L827.6 1012L824.9 1010.5L822.1 1009L819.5 1007.5L817 1006L814.7 1004.5L812.4 1003L810.2 1001.5L808.2 1000L806.2 998.5L804.3 997L802.4 995.5L800.7 994L799.1 992.5L797.5 991L796 989.5L794.5 988L793.1 986.5L791.8 985L790.5 983.5L789.2 982L788 980.5L786.8 979L785.6 977.5L784.5 976L783.3 974.5L782.2 973L781.1 971.5L780 970L778.9 968.5L777.8 967L776.8 965.5L775.8 964L774.8 962.5L773.8 961L772.9 959.5L772 958L771.1 956.5L770.3 955L769.5 953.5L768.7 952L767.9 950.5L767.1 949L766.3 947.5L765.5 946L764.7 944.5L763.9 943L763.1 941.5L762.3 940L761.5 938.5L760.7 937L760 935.5L759.2 934L758.5 932.5L757.8 931L757.1 929.5L756.5 928L755.9 926.5L755.3 925L754.7 923.5L754.1 922L753.5 920.5L753 919L752.4 917.5L751.9 916L751.3 914.5L750.8 913L750.3 911.5L749.8 910L749.3 908.5L748.8 907L748.3 905.5L747.8 904L747.4 902.5L746.9 901L746.4 899.5L746 898L745.5 896.5L745.1 895L744.7 893.5L744.2 892L743.8 890.5L743.3 889L742.9 887.5L742.4 886L741.9 884.5L741.5 883L741 881.5L740.5 880L740 878.5L739.6 877L739.1 875.5L738.7 874L738.2 872.5L737.8 871L737.4 869.5L737.1 868L736.7 866.5L736.4 865L736 863.5L735.7 862L735.4 860.5L735.1 859L734.8 857.5L734.5 856L734.3 854.5L734.1 853L733.8 851.5L733.6 850L733.4 848.5L733.3 847L733.1 845.5L733 844L732.8 842.5L732.8 841L732.7 839.5L732.7 838L732.6 836.5L732.6 835L732.6 833.5L732.6 832L732.6 830.5L732.6 829L732.5 827.5L732.5 826L732.5 824.5L732.5 823L732.5 821.5L732.5 820L732.5 818.5L732.5 817L732.5 815.5L732.5 814L732.5 812.5L732.4 811L732.4 809.5L732.4 808L732.4 806.5L732.4 805L732.4 803.5L732.3 802L732.3 800.5L732.3 799L732.3 797.5L732.2 796L732.2 794.5L732.2 793L732.1 791.5L732.1 790L732.1 788.5L732 787L732 785.5L732 784L731.9 782.5L731.9 781L731.8 779.5L731.8 778L731.8 776.5L731.7 775L731.7 773.5L731.7 772L731.6 770.5L731.6 769L731.5 767.5L731.5 766L731.5 764.5L731.4 763L731.4 761.5L731.3 760L731.3 758.5L731.3 757L731.2 755.5L731.2 754L731.2 752.5L731.1 751L731.1 749.5L731.1 748L731 746.5L731 745L731 743.5L730.9 742L730.9 740.5L730.9 739L730.9 737.5L730.8 736L730.8 734.5L730.8 733L730.8 731.5L730.8 730L730.7 728.5L730.7 727L730.7 725.5L730.7 724L730.7 722.5L730.6 721L730.6 719.5L730.6 718L730.6 716.5L730.6 715L730.6 713.5L730.5 712L730.5 710.5L730.5 709L730.5 707.5L730.5 706L730.5 704.5L730.4 703L730.4 701.5L730.4 700L730.4 698.5L730.3 697L730.3 695.5L730.3 694L730.3 692.5L730.2 691L730.2 689.5L730.1 688L730.1 686.5L730.1 685L730 683.5L729.9 682L729.9 680.5L729.8 679L729.8 677.5L729.7 676L729.6 674.5L729.5 673L729.5 671.5L729.4 670L729.3 668.5L729.2 667L729.1 665.5L729.1 664L729 662.5L728.9 661L728.8 659.5L728.7 658Z" fill="#ffced3"/>
<g filter="url(#sb)">
<path d="M722.9 928.8H734.6M722.9 933.3H734.6M722.9 978.9H734.6M720.6 983.5H736.8M720.6 988.1H736.8M720.6 992.6H736.8M722.9 997.2H734.6M722.9 1001.7H734.6M720.6 1020H736.8M720.6 1024.5H736.8M709.4 1029.1H748.1M709.4 1033.7H748.1M704.9 1038.2H752.6M704.9 1042.8H752.6M704.9 1047.3H752.6M709.4 1051.9H748.1M709.4 1056.5H748.1M709.4 1061H748.1M713.9 1065.6H743.6M713.9 1070.1H743.6M713.9 1074.7H743.6M700.4 1079.3H757.1M700.4 1083.8H757.1M695.9 1088.4H761.6M695.9 1092.9H761.6M695.9 1097.5H761.6M704.9 1102.1H752.6M700.4 1106.6H757.1M700.4 1111.2H757.1M704.9 1115.7H752.6M704.9 1120.3H752.6M716.1 1124.9H741.3M700.4 1129.4H757.1M700.4 1134H757.1M704.9 1138.5H752.6M720.6 1143.1H736.8M720.6 1147.7H736.8" stroke="#f98896" stroke-width="4.6" fill="none" opacity="0.85"/>
<path d="M722.9 942.5H734.6M720.6 951.6H736.8M716.1 969.8H741.3M713.9 983.5H743.6M718.4 992.6H739.1M716.1 1001.7H741.3M695.9 1010.9H761.6M695.9 1029.1H761.6M691.4 1038.2H766.1M682.4 1061H775.1M686.9 1070.1H770.6M668.9 1088.4H788.6M668.9 1097.5H788.6M673.4 1106.6H784.1M673.4 1120.3H784.1M682.4 1129.4H775.1M695.9 1147.7H761.6M720.6 1156.8H736.8M720.6 1165.9H736.8M720.6 1175H736.8" stroke="#f98896" stroke-width="2.7" fill="none" opacity="0.85"/>
<path d="M727.4 691.7H730.1M727.4 741.8H730.1M727.4 760.1H730.1M727.4 787.4H730.1M725.1 805.7H732.3M727.4 823.9H730.1M725.1 842.1H732.3M727.4 864.9H730.1M727.4 869.5H730.1M727.4 874.1H730.1M727.4 878.6H730.1M727.4 883.2H730.1M725.1 892.3H732.3M727.4 896.9H730.1M725.1 901.4H732.3M727.4 906H730.1M725.1 910.5H732.3M727.4 915.1H730.1M727.4 924.2H730.1M722.9 928.8H734.6M722.9 933.3H734.6M727.4 937.9H730.1M722.9 942.5H734.6M727.4 947H730.1M720.6 951.6H736.8M725.1 956.1H732.3M725.1 960.7H732.3M727.4 965.3H730.1M716.1 969.8H741.3M725.1 974.4H732.3M722.9 978.9H734.6M713.9 983.5H743.6M720.6 988.1H736.8M718.4 992.6H739.1M722.9 997.2H734.6M716.1 1001.7H741.3M725.1 1006.3H732.3M695.9 1010.9H761.6M725.1 1015.4H732.3M720.6 1020H736.8M720.6 1024.5H736.8M695.9 1029.1H761.6M709.4 1033.7H748.1M691.4 1038.2H766.1M704.9 1042.8H752.6M704.9 1047.3H752.6M709.4 1051.9H748.1M709.4 1056.5H748.1M682.4 1061H775.1M713.9 1065.6H743.6M686.9 1070.1H770.6M713.9 1074.7H743.6M700.4 1079.3H757.1M700.4 1083.8H757.1M668.9 1088.4H788.6M695.9 1092.9H761.6M668.9 1097.5H788.6M704.9 1102.1H752.6M673.4 1106.6H784.1M700.4 1111.2H757.1M704.9 1115.7H752.6M673.4 1120.3H784.1M716.1 1124.9H741.3M682.4 1129.4H775.1M700.4 1134H757.1M704.9 1138.5H752.6M720.6 1143.1H736.8M695.9 1147.7H761.6M727.4 1152.2H730.1M720.6 1156.8H736.8M725.1 1161.3H732.3M720.6 1165.9H736.8M725.1 1170.5H732.3M720.6 1175H736.8M725.1 1179.6H732.3M725.1 1184.1H732.3M727.4 1188.7H730.1M727.4 1193.3H730.1M727.4 1197.8H730.1M727.4 1202.4H730.1" stroke="#f0244c" stroke-width="2.7" stroke-dasharray="2.7 1.8" fill="none"/>
</g>
</g>
<g id="v2R">
<path d="M1529.6 672L1529.5 673.5L1529.5 675L1529.4 676.5L1529.4 678L1529.3 679.5L1529.2 681L1529.2 682.5L1529.1 684L1529.1 685.5L1529.1 687L1529 688.5L1529 690L1529 691.5L1529 693L1529 694.5L1529 696L1528.9 697.5L1528.9 699L1528.9 700.5L1528.9 702L1528.9 703.5L1528.9 705L1528.9 706.5L1528.9 708L1528.9 709.5L1528.9 711L1528.9 712.5L1528.9 714L1528.9 715.5L1528.8 717L1528.8 718.5L1528.8 720L1528.8 721.5L1528.8 723L1528.8 724.5L1528.8 726L1528.8 727.5L1528.8 729L1528.8 730.5L1528.8 732L1528.8 733.5L1528.8 735L1528.8 736.5L1528.8 738L1528.8 739.5L1528.8 741L1528.8 742.5L1528.8 744L1528.8 745.5L1528.8 747L1528.8 748.5L1528.8 750L1528.8 751.5L1528.7 753L1528.7 754.5L1528.7 756L1528.7 757.5L1528.7 759L1528.7 760.5L1528.7 762L1528.7 763.5L1528.7 765L1528.7 766.5L1528.7 768L1528.7 769.5L1528.7 771L1528.7 772.5L1528.7 774L1528.7 775.5L1528.7 777L1528.7 778.5L1528.7 780L1528.7 781.5L1528.7 783L1528.7 784.5L1528.7 786L1528.7 787.5L1528.7 789L1528.7 790.5L1528.7 792L1528.7 793.5L1528.7 795L1528.7 796.5L1528.7 798L1528.7 799.5L1528.7 801L1528.7 802.5L1528.7 804L1528.7 805.5L1528.7 807L1528.7 808.5L1528.7 810L1528.7 811.5L1528.7 813L1528.7 814.5L1528.7 816L1528.7 817.5L1528.7 819L1528.7 820.5L1528.7 822L1528.7 823.5L1528.7 825L1528.7 826.5L1528.7 828L1528.7 829.5L1528.6 831L1528.6 832.5L1528.6 834L1528.6 835.5L1528.6 837L1528.6 838.5L1528.6 840L1528.6 841.5L1528.6 843L1528.6 844.5L1528.6 846L1528.6 847.5L1528.6 849L1528.6 850.5L1528.6 852L1528.6 853.5L1528.6 855L1528.6 856.5L1528.5 858L1528.5 859.5L1528.5 861L1528.5 862.5L1528.5 864L1528.5 865.5L1528.5 867L1528.5 868.5L1528.5 870L1528.5 871.5L1528.5 873L1528.4 874.5L1528.4 876L1528.4 877.5L1528.4 879L1528.4 880.5L1528.3 882L1528.2 883.5L1528.1 885L1528 886.5L1527.8 888L1527.6 889.5L1527.4 891L1527.2 892.5L1526.9 894L1526.7 895.5L1526.4 897L1526.2 898.5L1525.9 900L1525.7 901.5L1525.4 903L1525.2 904.5L1525 906L1524.8 907.5L1524.5 909L1524.3 910.5L1524.1 912L1523.9 913.5L1523.7 915L1523.4 916.5L1523.2 918L1523 919.5L1522.7 921L1522.4 922.5L1522.1 924L1521.7 925.5L1521.3 927L1520.9 928.5L1520.4 930L1520 931.5L1519.4 933L1518.9 934.5L1518.3 936L1517.7 937.5L1517.1 939L1516.5 940.5L1515.9 942L1515.3 943.5L1514.7 945L1514.1 946.5L1513.5 948L1512.9 949.5L1512.3 951L1511.7 952.5L1511.1 954L1510.5 955.5L1509.9 957L1509.2 958.5L1508.6 960L1508 961.5L1507.3 963L1506.6 964.5L1506 966L1505.3 967.5L1504.6 969L1503.9 970.5L1503.2 972L1502.5 973.5L1501.8 975L1501.1 976.5L1500.4 978L1499.6 979.5L1498.9 981L1498.1 982.5L1497.3 984L1496.5 985.5L1495.7 987L1494.8 988.5L1493.9 990L1493 991.5L1492 993L1491 994.5L1489.9 996L1488.8 997.5L1487.7 999L1486.5 1000.5L1485.3 1002L1484 1003.5L1482.8 1005L1481.5 1006.5L1480.3 1008L1479 1009.5L1477.8 1011L1476.5 1012.5L1475.3 1014L1474.2 1015.5L1473 1017L1471.9 1018.5L1470.8 1020L1469.6 1021.5L1468.4 1023L1467.1 1024.5L1465.8 1026L1464.3 1027.5L1462.7 1029L1460.9 1030.5L1458.8 1032L1456.6 1033.5L1454.1 1035L1451.3 1036.5L1448.4 1038L1445.3 1039.5L1442 1041L1438.5 1042.5L1434.7 1044L1430.7 1045.5L1426.3 1047L1421.8 1048.5L1417 1050L1412 1051.5L1406.8 1053L1401.4 1054.5L1395.9 1056L1390.4 1057.5L1384.8 1059L1379.3 1060.5L1374 1062L1368.8 1063.5L1363.8 1065L1358.8 1066.5L1354 1068L1349.1 1069.5L1344.2 1071L1339.1 1072.5L1334 1074L1328.6 1075.5L1323 1077L1317.3 1078.5L1311.3 1080L1305.3 1081.5L1299.2 1083L1293 1084.5L1286.9 1086L1280.8 1087.5L1274.8 1089L1268.8 1090.5L1262.7 1092L1256.7 1093.5L1250.7 1095L1244.7 1096.5L1238.6 1098L1232.4 1099.5L1226.2 1101L1220 1102.5L1213.9 1104L1208 1105.5L1202.2 1107L1196.8 1108.5L1191.6 1110L1186.8 1111.5L1182.4 1113L1178.4 1114.5L1174.9 1116L1172.1 1117.5L1170.3 1119L1169.9 1120.5L1170.8 1122L1173.1 1123.5L1176.5 1125L1180.9 1126.5L1186.2 1128L1192.1 1129.5L1198.7 1131L1205.7 1132.5L1213.2 1134L1221.2 1135.5L1229.8 1137L1239.1 1138.5L1249.1 1140L1259.7 1141.5L1270.6 1143L1281.4 1144.5L1291.9 1146L1302.2 1147.5L1312.3 1149L1322.5 1150.5L1333 1152L1343.8 1153.5L1354.9 1155L1366 1156.5L1377.2 1158L1388.2 1159.5L1398.9 1161L1409.1 1162.5L1418.6 1164L1427.4 1165.5L1435.6 1167L1443.2 1168.5L1450.3 1170L1457 1171.5L1463.3 1173L1469.2 1174.5L1474.6 1176L1479.5 1177.5L1484 1179L1488.1 1180.5L1491.7 1182L1495.1 1183.5L1498.3 1185L1501.2 1186.5L1504 1188L1506.6 1189.5L1509.1 1191L1511.5 1192.5L1513.6 1194L1515.6 1195.5L1517.4 1197L1519 1198.5L1520.4 1200L1521.8 1201.5L1523 1203L1524.1 1204.5L1525 1206L1525.7 1207.5L1526.3 1209L1526.8 1210.5L1527.3 1212L1527.7 1213.5L1528.1 1215L1528.4 1216.5L1528.7 1218L1529 1219.5L1529.2 1221L1529.4 1222.5L1529.5 1224L1529.6 1225.5L1529.6 1226L1529.6 1226L1529.6 1225.5L1529.7 1224L1529.8 1222.5L1530 1221L1530.2 1219.5L1530.5 1218L1530.8 1216.5L1531.1 1215L1531.5 1213.5L1531.9 1212L1532.4 1210.5L1532.9 1209L1533.5 1207.5L1534.2 1206L1535.1 1204.5L1536.2 1203L1537.4 1201.5L1538.8 1200L1540.2 1198.5L1541.8 1197L1543.6 1195.5L1545.6 1194L1547.7 1192.5L1550.1 1191L1552.6 1189.5L1555.2 1188L1558 1186.5L1560.9 1185L1564.1 1183.5L1567.5 1182L1571.1 1180.5L1575.2 1179L1579.7 1177.5L1584.6 1176L1590 1174.5L1595.9 1173L1602.2 1171.5L1608.9 1170L1616 1168.5L1623.6 1167L1631.8 1165.5L1640.6 1164L1650.1 1162.5L1660.3 1161L1671 1159.5L1682 1158L1693.2 1156.5L1704.3 1155L1715.4 1153.5L1726.2 1152L1736.7 1150.5L1746.9 1149L1757 1147.5L1767.3 1146L1777.8 1144.5L1788.6 1143L1799.5 1141.5L1810.1 1140L1820.1 1138.5L1829.4 1137L1838 1135.5L1846 1134L1853.5 1132.5L1860.5 1131L1867.1 1129.5L1873 1128L1878.3 1126.5L1882.7 1125L1886.1 1123.5L1888.4 1122L1889.3 1120.5L1888.9 1119L1887.1 1117.5L1884.3 1116L1880.8 1114.5L1876.8 1113L1872.4 1111.5L1867.6 1110L1862.4 1108.5L1857 1107L1851.2 1105.5L1845.3 1104L1839.2 1102.5L1833 1101L1826.8 1099.5L1820.6 1098L1814.5 1096.5L1808.5 1095L1802.5 1093.5L1796.5 1092L1790.4 1090.5L1784.4 1089L1778.4 1087.5L1772.3 1086L1766.2 1084.5L1760 1083L1753.9 1081.5L1747.9 1080L1741.9 1078.5L1736.2 1077L1730.6 1075.5L1725.2 1074L1720.1 1072.5L1715 1071L1710.1 1069.5L1705.2 1068L1700.4 1066.5L1695.4 1065L1690.4 1063.5L1685.2 1062L1679.9 1060.5L1674.4 1059L1668.8 1057.5L1663.3 1056L1657.8 1054.5L1652.4 1053L1647.2 1051.5L1642.2 1050L1637.4 1048.5L1632.9 1047L1628.5 1045.5L1624.5 1044L1620.7 1042.5L1617.2 1041L1613.9 1039.5L1610.8 1038L1607.9 1036.5L1605.1 1035L1602.6 1033.5L1600.4 1032L1598.3 1030.5L1596.5 1029L1594.9 1027.5L1593.4 1026L1592.1 1024.5L1590.8 1023L1589.6 1021.5L1588.4 1020L1587.3 1018.5L1586.2 1017L1585 1015.5L1583.9 1014L1582.7 1012.5L1581.4 1011L1580.2 1009.5L1578.9 1008L1577.7 1006.5L1576.4 1005L1575.2 1003.5L1573.9 1002L1572.7 1000.5L1571.5 999L1570.4 997.5L1569.3 996L1568.2 994.5L1567.2 993L1566.2 991.5L1565.3 990L1564.4 988.5L1563.5 987L1562.7 985.5L1561.9 984L1561.1 982.5L1560.3 981L1559.6 979.5L1558.8 978L1558.1 976.5L1557.4 975L1556.7 973.5L1556 972L1555.3 970.5L1554.6 969L1553.9 967.5L1553.2 966L1552.6 964.5L1551.9 963L1551.2 961.5L1550.6 960L1550 958.5L1549.3 957L1548.7 955.5L1548.1 954L1547.5 952.5L1546.9 951L1546.3 949.5L1545.7 948L1545.1 946.5L1544.5 945L1543.9 943.5L1543.3 942L1542.7 940.5L1542.1 939L1541.5 937.5L1540.9 936L1540.3 934.5L1539.8 933L1539.2 931.5L1538.8 930L1538.3 928.5L1537.9 927L1537.5 925.5L1537.1 924L1536.8 922.5L1536.5 921L1536.2 919.5L1536 918L1535.8 916.5L1535.5 915L1535.3 913.5L1535.1 912L1534.9 910.5L1534.7 909L1534.4 907.5L1534.2 906L1534 904.5L1533.8 903L1533.5 901.5L1533.3 900L1533 898.5L1532.8 897L1532.5 895.5L1532.3 894L1532 892.5L1531.8 891L1531.6 889.5L1531.4 888L1531.2 886.5L1531.1 885L1531 883.5L1530.9 882L1530.8 880.5L1530.8 879L1530.8 877.5L1530.8 876L1530.8 874.5L1530.7 873L1530.7 871.5L1530.7 870L1530.7 868.5L1530.7 867L1530.7 865.5L1530.7 864L1530.7 862.5L1530.7 861L1530.7 859.5L1530.7 858L1530.6 856.5L1530.6 855L1530.6 853.5L1530.6 852L1530.6 850.5L1530.6 849L1530.6 847.5L1530.6 846L1530.6 844.5L1530.6 843L1530.6 841.5L1530.6 840L1530.6 838.5L1530.6 837L1530.6 835.5L1530.6 834L1530.6 832.5L1530.6 831L1530.5 829.5L1530.5 828L1530.5 826.5L1530.5 825L1530.5 823.5L1530.5 822L1530.5 820.5L1530.5 819L1530.5 817.5L1530.5 816L1530.5 814.5L1530.5 813L1530.5 811.5L1530.5 810L1530.5 808.5L1530.5 807L1530.5 805.5L1530.5 804L1530.5 802.5L1530.5 801L1530.5 799.5L1530.5 798L1530.5 796.5L1530.5 795L1530.5 793.5L1530.5 792L1530.5 790.5L1530.5 789L1530.5 787.5L1530.5 786L1530.5 784.5L1530.5 783L1530.5 781.5L1530.5 780L1530.5 778.5L1530.5 777L1530.5 775.5L1530.5 774L1530.5 772.5L1530.5 771L1530.5 769.5L1530.5 768L1530.5 766.5L1530.5 765L1530.5 763.5L1530.5 762L1530.5 760.5L1530.5 759L1530.5 757.5L1530.5 756L1530.5 754.5L1530.5 753L1530.4 751.5L1530.4 750L1530.4 748.5L1530.4 747L1530.4 745.5L1530.4 744L1530.4 742.5L1530.4 741L1530.4 739.5L1530.4 738L1530.4 736.5L1530.4 735L1530.4 733.5L1530.4 732L1530.4 730.5L1530.4 729L1530.4 727.5L1530.4 726L1530.4 724.5L1530.4 723L1530.4 721.5L1530.4 720L1530.4 718.5L1530.4 717L1530.3 715.5L1530.3 714L1530.3 712.5L1530.3 711L1530.3 709.5L1530.3 708L1530.3 706.5L1530.3 705L1530.3 703.5L1530.3 702L1530.3 700.5L1530.3 699L1530.3 697.5L1530.2 696L1530.2 694.5L1530.2 693L1530.2 691.5L1530.2 690L1530.2 688.5L1530.1 687L1530.1 685.5L1530.1 684L1530 682.5L1530 681L1529.9 679.5L1529.8 678L1529.8 676.5L1529.7 675L1529.7 673.5L1529.6 672Z" fill="#c8f0d0"/>
<g filter="url(#sb)">
<path d="M1522.7 950H1536.5M1522.7 954.5H1536.5M1517.6 959.1H1541.6M1517.6 963.7H1541.6M1517.6 968.2H1541.6M1517.6 972.8H1541.6M1520.1 977.3H1539M1520.1 981.9H1539M1520.1 986.5H1539M1520.1 991H1539M1520.1 995.6H1539M1517.6 1000.1H1541.6M1517.6 1004.7H1541.6M1507.4 1009.3H1551.8M1507.4 1013.8H1551.8M1497.2 1018.4H1562M1497.2 1022.9H1562M1497.2 1027.5H1562M1502.3 1032.1H1556.9M1492.1 1036.6H1567.1M1476.8 1041.2H1582.4M1476.8 1045.7H1582.4M1466.6 1050.3H1592.6M1466.6 1054.9H1592.6M1466.6 1059.4H1592.6M1492.1 1064H1567.1M1425.8 1068.5H1633.4M1425.8 1073.1H1633.4M1430.9 1077.7H1628.3M1441.1 1082.2H1618.1M1410.5 1086.8H1648.7M1410.5 1091.3H1648.7M1390.1 1095.9H1669.1M1390.1 1100.5H1669.1M1390.1 1105H1669.1M1446.2 1109.6H1613M1216.7 1114.1H1842.5M1216.7 1118.7H1842.5M1430.9 1123.3H1628.3M1400.3 1127.8H1658.9M1400.3 1132.4H1658.9M1400.3 1136.9H1658.9M1420.7 1141.5H1638.5M1420.7 1146.1H1638.5M1456.4 1150.6H1602.8M1456.4 1155.2H1602.8M1492.1 1159.7H1567.1M1492.1 1164.3H1567.1M1507.4 1168.9H1551.8M1507.4 1173.4H1551.8M1520.1 1178H1539M1520.1 1182.5H1539M1520.1 1187.1H1539" stroke="#74dc86" stroke-width="4.6" fill="none" opacity="0.85"/>
<path d="M1522.7 908.9H1536.5M1522.7 918.1H1536.5M1522.7 927.2H1536.5M1522.7 936.3H1536.5M1520.1 950H1539M1512.5 959.1H1546.7M1502.3 968.2H1556.9M1517.6 991H1541.6M1507.4 1000.1H1551.8M1492.1 1009.3H1567.1M1487 1018.4H1572.2M1481.9 1027.5H1577.3M1466.6 1041.2H1592.6M1441.1 1050.3H1618.1M1395.2 1059.4H1664M1374.8 1068.5H1684.4M1328.9 1086.8H1730.3M1354.4 1095.9H1704.8M1257.5 1105H1801.7M1211.6 1114.1H1847.6M1196.3 1127.8H1862.9M1334 1136.9H1725.2M1364.6 1146.1H1694.6M1430.9 1155.2H1628.3M1461.5 1164.3H1597.7M1487 1173.4H1572.2M1517.6 1187.1H1541.6M1520.1 1196.2H1539" stroke="#74dc86" stroke-width="3" fill="none" opacity="0.85"/>
<path d="M1527.8 690.1H1531.4M1527.8 703.7H1531.4M1527.8 708.3H1531.4M1525.2 731.1H1533.9M1527.8 772.1H1531.4M1527.8 781.3H1531.4M1525.2 785.8H1533.9M1527.8 794.9H1531.4M1527.8 804.1H1531.4M1527.8 813.2H1531.4M1527.8 826.9H1531.4M1525.2 836H1533.9M1527.8 840.5H1531.4M1525.2 849.7H1533.9M1527.8 854.2H1531.4M1527.8 858.8H1531.4M1527.8 863.3H1531.4M1527.8 867.9H1531.4M1527.8 872.5H1531.4M1527.8 877H1531.4M1527.8 881.6H1531.4M1527.8 886.1H1531.4M1525.2 890.7H1533.9M1525.2 895.3H1533.9M1525.2 899.8H1533.9M1525.2 904.4H1533.9M1522.7 908.9H1536.5M1525.2 913.5H1533.9M1522.7 918.1H1536.5M1525.2 922.6H1533.9M1522.7 927.2H1536.5M1525.2 931.7H1533.9M1522.7 936.3H1536.5M1525.2 940.9H1533.9M1525.2 945.4H1533.9M1520.1 950H1539M1522.7 954.5H1536.5M1512.5 959.1H1546.7M1517.6 963.7H1541.6M1502.3 968.2H1556.9M1517.6 972.8H1541.6M1520.1 977.3H1539M1520.1 981.9H1539M1520.1 986.5H1539M1517.6 991H1541.6M1520.1 995.6H1539M1507.4 1000.1H1551.8M1517.6 1004.7H1541.6M1492.1 1009.3H1567.1M1507.4 1013.8H1551.8M1487 1018.4H1572.2M1497.2 1022.9H1562M1481.9 1027.5H1577.3M1502.3 1032.1H1556.9M1492.1 1036.6H1567.1M1466.6 1041.2H1592.6M1476.8 1045.7H1582.4M1441.1 1050.3H1618.1M1466.6 1054.9H1592.6M1395.2 1059.4H1664M1492.1 1064H1567.1M1374.8 1068.5H1684.4M1425.8 1073.1H1633.4M1430.9 1077.7H1628.3M1441.1 1082.2H1618.1M1328.9 1086.8H1730.3M1410.5 1091.3H1648.7M1354.4 1095.9H1704.8M1390.1 1100.5H1669.1M1257.5 1105H1801.7M1446.2 1109.6H1613M1211.6 1114.1H1847.6M1216.7 1118.7H1842.5M1430.9 1123.3H1628.3M1196.3 1127.8H1862.9M1400.3 1132.4H1658.9M1334 1136.9H1725.2M1420.7 1141.5H1638.5M1364.6 1146.1H1694.6M1456.4 1150.6H1602.8M1430.9 1155.2H1628.3M1492.1 1159.7H1567.1M1461.5 1164.3H1597.7M1507.4 1168.9H1551.8M1487 1173.4H1572.2M1520.1 1178H1539M1520.1 1182.5H1539M1517.6 1187.1H1541.6M1525.2 1191.7H1533.9M1520.1 1196.2H1539M1527.8 1200.8H1531.4M1527.8 1228.1H1531.4" stroke="#2cba48" stroke-width="3" stroke-dasharray="3.6 1.5" fill="none"/>
</g>
</g>
<g id="v3L">
<path d="M728.7 1262L728.6 1263.5L728.5 1265L728.4 1266.5L728.4 1268L728.3 1269.5L728.2 1271L728.2 1272.5L728.1 1274L728.1 1275.5L728.1 1277L728.1 1278.5L728.1 1280L728.1 1281.5L728.1 1283L728.1 1284.5L728.1 1286L728.1 1287.5L728.1 1289L728.1 1290.5L728.1 1292L728.1 1293.5L728.1 1295L728.1 1296.5L728.1 1298L728.1 1299.5L728.1 1301L728.1 1302.5L728.1 1304L728.1 1305.5L728.1 1307L728.1 1308.5L728.1 1310L728.1 1311.5L728.1 1313L728.1 1314.5L728.1 1316L728.1 1317.5L728.1 1319L728.1 1320.5L728.1 1322L728.1 1323.5L728.1 1325L728.1 1326.5L728.1 1328L728.1 1329.5L728.1 1331L728.1 1332.5L728.1 1334L728.1 1335.5L728.1 1337L728.1 1338.5L728.1 1340L728.1 1341.5L728.1 1343L728.1 1344.5L728.1 1346L728.1 1347.5L728.1 1349L728.1 1350.5L728.1 1352L728.1 1353.5L728.1 1355L728.1 1356.5L728.1 1358L728.1 1359.5L728.1 1361L728.1 1362.5L728.1 1364L728.1 1365.5L728.1 1367L728.1 1368.5L728.1 1370L728.1 1371.5L728.1 1373L728.1 1374.5L728.1 1376L728.1 1377.5L728.1 1379L728.1 1380.5L728.1 1382L728.1 1383.5L728.1 1385L728.1 1386.5L728.1 1388L728.1 1389.5L728.1 1391L728.1 1392.5L728.1 1394L728.1 1395.5L728.1 1397L728.1 1398.5L728.1 1400L728.1 1401.5L728.1 1403L728.1 1404.5L728.1 1406L728.1 1407.5L728.1 1409L728.1 1410.5L728.1 1412L728.1 1413.5L728.1 1415L728.1 1416.5L728.1 1418L728.1 1419.5L728.1 1421L728.1 1422.5L728.1 1424L728.1 1425.5L728.1 1427L728.1 1428.5L728.1 1430L728.1 1431.5L728.1 1433L728.1 1434.5L728.1 1436L728 1437.5L728 1439L728 1440.5L728 1442L728 1443.5L728 1445L728 1446.5L728 1448L728 1449.5L728 1451L728 1452.5L728 1454L728 1455.5L728 1457L728 1458.5L728 1460L728 1461.5L728 1463L728 1464.5L728 1466L727.9 1467.5L727.9 1469L727.9 1470.5L727.9 1472L727.9 1473.5L727.9 1475L727.9 1476.5L727.9 1478L727.9 1479.5L727.9 1481L727.9 1482.5L727.9 1484L727.9 1485.5L727.9 1487L727.9 1488.5L727.9 1490L727.9 1491.5L727.8 1493L727.8 1494.5L727.8 1496L727.8 1497.5L727.8 1499L727.8 1500.5L727.8 1502L727.8 1503.5L727.8 1505L727.8 1506.5L727.8 1508L727.8 1509.5L727.7 1511L727.7 1512.5L727.7 1514L727.7 1515.5L727.7 1517L727.7 1518.5L727.6 1520L727.6 1521.5L727.6 1523L727.6 1524.5L727.6 1526L727.5 1527.5L727.5 1529L727.5 1530.5L727.4 1532L727.3 1533.5L727.1 1535L727 1536.5L726.8 1538L726.6 1539.5L726.3 1541L726.1 1542.5L725.8 1544L725.6 1545.5L725.3 1547L724.9 1548.5L724.5 1550L724.1 1551.5L723.7 1553L723.3 1554.5L722.9 1556L722.5 1557.5L722.1 1559L721.7 1560.5L721.2 1562L720.8 1563.5L720.4 1565L720 1566.5L719.5 1568L719.1 1569.5L718.7 1571L718.3 1572.5L717.8 1574L717.4 1575.5L717 1577L716.5 1578.5L716.1 1580L715.7 1581.5L715.3 1583L714.8 1584.5L714.4 1586L714 1587.5L713.6 1589L713.2 1590.5L712.8 1592L712.5 1593.5L712.1 1595L711.8 1596.5L711.4 1598L711.1 1599.5L710.7 1601L710.3 1602.5L709.8 1604L709.4 1605.5L708.8 1607L708.2 1608.5L707.5 1610L706.8 1611.5L705.9 1613L705 1614.5L704.1 1616L703.1 1617.5L702.1 1619L701.1 1620.5L700 1622L699 1623.5L697.9 1625L696.8 1626.5L695.7 1628L694.6 1629.5L693.4 1631L692.2 1632.5L690.9 1634L689.7 1635.5L688.4 1637L687 1638.5L685.6 1640L684.1 1641.5L682.6 1643L680.9 1644.5L679.3 1646L677.5 1647.5L675.8 1649L674.1 1650.5L672.4 1652L670.8 1653.5L669.3 1655L667.8 1656.5L666.5 1658L665.3 1659.5L664 1661L662.6 1662.5L661.1 1664L659.3 1665.5L657.2 1667L655 1668.5L652.5 1670L650 1671.5L647.3 1673L644.5 1674.5L641.7 1676L638.8 1677.5L635.8 1679L632.7 1680.5L629.6 1682L626.3 1683.5L622.9 1685L619.3 1686.5L615.6 1688L611.8 1689.5L607.8 1691L603.6 1692.5L599.1 1694L594.4 1695.5L589.5 1697L584.5 1698.5L579.3 1700L574 1701.5L568.6 1703L563.3 1704.5L557.9 1706L552.5 1707.5L547 1709L541.4 1710.5L535.8 1712L530.1 1713.5L524.6 1715L519.1 1716.5L513.8 1718L508.7 1719.5L503.8 1721L499.1 1722.5L494.5 1724L490.1 1725.5L485.8 1727L481.6 1728.5L477.5 1730L473.6 1731.5L469.9 1733L466.7 1734.5L464.2 1736L462.7 1737.5L462.1 1739L462.6 1740.5L464.1 1742L466.4 1743.5L469.4 1745L473.2 1746.5L477.7 1748L482.8 1749.5L488.6 1751L494.9 1752.5L501.7 1754L508.9 1755.5L516.6 1757L524.7 1758.5L533.3 1760L542.3 1761.5L551.8 1763L561.6 1764.5L571.9 1766L582.3 1767.5L592.7 1769L602.8 1770.5L612.4 1772L621.3 1773.5L629.8 1775L637.8 1776.5L645.3 1778L652.5 1779.5L659.3 1781L665.7 1782.5L671.8 1784L677.5 1785.5L683 1787L688 1788.5L692.7 1790L697 1791.5L701 1793L704.5 1794.5L707.8 1796L710.7 1797.5L713.3 1799L715.5 1800.5L717.5 1802L719.2 1803.5L720.7 1805L722.1 1806.5L723.2 1808L724.3 1809.5L725.2 1811L726.1 1812.5L726.9 1814L727.6 1815.5L728.2 1817L728.6 1818.5L728.7 1818.7L728.7 1818.7L728.8 1818.5L729.2 1817L729.8 1815.5L730.5 1814L731.3 1812.5L732.2 1811L733.1 1809.5L734.2 1808L735.3 1806.5L736.7 1805L738.2 1803.5L739.9 1802L741.9 1800.5L744.1 1799L746.7 1797.5L749.6 1796L752.9 1794.5L756.4 1793L760.4 1791.5L764.7 1790L769.4 1788.5L774.4 1787L779.9 1785.5L785.6 1784L791.7 1782.5L798.1 1781L804.9 1779.5L812.1 1778L819.6 1776.5L827.6 1775L836.1 1773.5L845 1772L854.6 1770.5L864.7 1769L875.1 1767.5L885.5 1766L895.8 1764.5L905.6 1763L915.1 1761.5L924.1 1760L932.7 1758.5L940.8 1757L948.5 1755.5L955.7 1754L962.5 1752.5L968.8 1751L974.6 1749.5L979.7 1748L984.2 1746.5L988 1745L991 1743.5L993.3 1742L994.8 1740.5L995.3 1739L994.7 1737.5L993.2 1736L990.7 1734.5L987.5 1733L983.8 1731.5L979.9 1730L975.8 1728.5L971.6 1727L967.3 1725.5L962.9 1724L958.3 1722.5L953.6 1721L948.7 1719.5L943.6 1718L938.3 1716.5L932.8 1715L927.3 1713.5L921.6 1712L916 1710.5L910.4 1709L904.9 1707.5L899.5 1706L894.1 1704.5L888.8 1703L883.4 1701.5L878.1 1700L872.9 1698.5L867.9 1697L863 1695.5L858.3 1694L853.8 1692.5L849.6 1691L845.6 1689.5L841.8 1688L838.1 1686.5L834.5 1685L831.1 1683.5L827.8 1682L824.7 1680.5L821.6 1679L818.6 1677.5L815.7 1676L812.9 1674.5L810.1 1673L807.4 1671.5L804.9 1670L802.4 1668.5L800.2 1667L798.1 1665.5L796.3 1664L794.8 1662.5L793.4 1661L792.1 1659.5L790.9 1658L789.6 1656.5L788.1 1655L786.6 1653.5L785 1652L783.3 1650.5L781.6 1649L779.9 1647.5L778.1 1646L776.5 1644.5L774.8 1643L773.3 1641.5L771.8 1640L770.4 1638.5L769 1637L767.7 1635.5L766.5 1634L765.2 1632.5L764 1631L762.8 1629.5L761.7 1628L760.6 1626.5L759.5 1625L758.4 1623.5L757.4 1622L756.3 1620.5L755.3 1619L754.3 1617.5L753.3 1616L752.4 1614.5L751.5 1613L750.6 1611.5L749.9 1610L749.2 1608.5L748.6 1607L748 1605.5L747.6 1604L747.1 1602.5L746.7 1601L746.3 1599.5L746 1598L745.6 1596.5L745.3 1595L744.9 1593.5L744.6 1592L744.2 1590.5L743.8 1589L743.4 1587.5L743 1586L742.6 1584.5L742.1 1583L741.7 1581.5L741.3 1580L740.9 1578.5L740.4 1577L740 1575.5L739.6 1574L739.1 1572.5L738.7 1571L738.3 1569.5L737.9 1568L737.4 1566.5L737 1565L736.6 1563.5L736.2 1562L735.7 1560.5L735.3 1559L734.9 1557.5L734.5 1556L734.1 1554.5L733.7 1553L733.3 1551.5L732.9 1550L732.5 1548.5L732.1 1547L731.8 1545.5L731.6 1544L731.3 1542.5L731.1 1541L730.8 1539.5L730.6 1538L730.4 1536.5L730.3 1535L730.1 1533.5L730 1532L729.9 1530.5L729.9 1529L729.9 1527.5L729.8 1526L729.8 1524.5L729.8 1523L729.8 1521.5L729.8 1520L729.7 1518.5L729.7 1517L729.7 1515.5L729.7 1514L729.7 1512.5L729.7 1511L729.6 1509.5L729.6 1508L729.6 1506.5L729.6 1505L729.6 1503.5L729.6 1502L729.6 1500.5L729.6 1499L729.6 1497.5L729.6 1496L729.6 1494.5L729.6 1493L729.5 1491.5L729.5 1490L729.5 1488.5L729.5 1487L729.5 1485.5L729.5 1484L729.5 1482.5L729.5 1481L729.5 1479.5L729.5 1478L729.5 1476.5L729.5 1475L729.5 1473.5L729.5 1472L729.5 1470.5L729.5 1469L729.5 1467.5L729.4 1466L729.4 1464.5L729.4 1463L729.4 1461.5L729.4 1460L729.4 1458.5L729.4 1457L729.4 1455.5L729.4 1454L729.4 1452.5L729.4 1451L729.4 1449.5L729.4 1448L729.4 1446.5L729.4 1445L729.4 1443.5L729.4 1442L729.4 1440.5L729.4 1439L729.4 1437.5L729.3 1436L729.3 1434.5L729.3 1433L729.3 1431.5L729.3 1430L729.3 1428.5L729.3 1427L729.3 1425.5L729.3 1424L729.3 1422.5L729.3 1421L729.3 1419.5L729.3 1418L729.3 1416.5L729.3 1415L729.3 1413.5L729.3 1412L729.3 1410.5L729.3 1409L729.3 1407.5L729.3 1406L729.3 1404.5L729.3 1403L729.3 1401.5L729.3 1400L729.3 1398.5L729.3 1397L729.3 1395.5L729.3 1394L729.3 1392.5L729.3 1391L729.3 1389.5L729.3 1388L729.3 1386.5L729.3 1385L729.3 1383.5L729.3 1382L729.3 1380.5L729.3 1379L729.3 1377.5L729.3 1376L729.3 1374.5L729.3 1373L729.3 1371.5L729.3 1370L729.3 1368.5L729.3 1367L729.3 1365.5L729.3 1364L729.3 1362.5L729.3 1361L729.3 1359.5L729.3 1358L729.3 1356.5L729.3 1355L729.3 1353.5L729.3 1352L729.3 1350.5L729.3 1349L729.3 1347.5L729.3 1346L729.3 1344.5L729.3 1343L729.3 1341.5L729.3 1340L729.3 1338.5L729.3 1337L729.3 1335.5L729.3 1334L729.3 1332.5L729.3 1331L729.3 1329.5L729.3 1328L729.3 1326.5L729.3 1325L729.3 1323.5L729.3 1322L729.3 1320.5L729.3 1319L729.3 1317.5L729.3 1316L729.3 1314.5L729.3 1313L729.3 1311.5L729.3 1310L729.3 1308.5L729.3 1307L729.3 1305.5L729.3 1304L729.3 1302.5L729.3 1301L729.3 1299.5L729.3 1298L729.3 1296.5L729.3 1295L729.3 1293.5L729.3 1292L729.3 1290.5L729.3 1289L729.3 1287.5L729.3 1286L729.3 1284.5L729.3 1283L729.3 1281.5L729.3 1280L729.3 1278.5L729.3 1277L729.3 1275.5L729.3 1274L729.2 1272.5L729.2 1271L729.1 1269.5L729 1268L729 1266.5L728.9 1265L728.8 1263.5L728.7 1262Z" fill="#ffced3"/>
<g filter="url(#sb)">
<path d="M722.9 1629H734.6M720.6 1633.6H736.8M720.6 1638.1H736.8M720.6 1642.7H736.8M720.6 1647.3H736.8M720.6 1651.8H736.8M720.6 1656.4H736.8M709.4 1660.9H748.1M709.4 1665.5H748.1M720.6 1670.1H736.8M720.6 1674.6H736.8M716.1 1679.2H741.3M716.1 1683.7H741.3M713.9 1688.3H743.6M713.9 1692.9H743.6M704.9 1697.4H752.6M695.9 1702H761.6M691.4 1706.5H766.1M686.9 1711.1H770.6M682.4 1715.7H775.1M677.9 1720.2H779.6M664.4 1724.8H793.1M659.9 1729.3H797.6M650.9 1733.9H806.6M650.9 1738.5H806.6M655.4 1743H802.1M659.9 1747.6H797.6M673.4 1752.1H784.1M677.9 1756.7H779.6M682.4 1761.3H775.1M713.9 1765.8H743.6M716.1 1770.4H741.3" stroke="#f98896" stroke-width="4.6" fill="none" opacity="0.85"/>
<path d="M720.6 1606.2H736.8M718.4 1633.6H739.1M716.1 1642.7H741.3M718.4 1651.8H739.1M704.9 1679.2H752.6M691.4 1688.3H766.1M646.4 1738.5H811.1M709.4 1779.5H748.1" stroke="#f98896" stroke-width="2.7" fill="none" opacity="0.85"/>
<path d="M727.4 1273.3H730.1M727.4 1323.5H730.1M727.4 1364.5H730.1M727.4 1391.9H730.1M727.4 1401H730.1M727.4 1419.3H730.1M727.4 1428.4H730.1M727.4 1437.5H730.1M727.4 1469.4H730.1M725.1 1474H732.3M727.4 1501.3H730.1M727.4 1533.3H730.1M727.4 1556.1H730.1M725.1 1560.6H732.3M727.4 1569.7H730.1M725.1 1574.3H732.3M727.4 1578.9H730.1M725.1 1583.4H732.3M725.1 1588H732.3M727.4 1592.5H730.1M725.1 1597.1H732.3M725.1 1601.7H732.3M720.6 1606.2H736.8M725.1 1610.8H732.3M725.1 1615.3H732.3M725.1 1619.9H732.3M725.1 1624.5H732.3M722.9 1629H734.6M718.4 1633.6H739.1M720.6 1638.1H736.8M716.1 1642.7H741.3M720.6 1647.3H736.8M718.4 1651.8H739.1M720.6 1656.4H736.8M709.4 1660.9H748.1M709.4 1665.5H748.1M720.6 1670.1H736.8M720.6 1674.6H736.8M704.9 1679.2H752.6M716.1 1683.7H741.3M691.4 1688.3H766.1M713.9 1692.9H743.6M704.9 1697.4H752.6M695.9 1702H761.6M691.4 1706.5H766.1M686.9 1711.1H770.6M682.4 1715.7H775.1M677.9 1720.2H779.6M664.4 1724.8H793.1M659.9 1729.3H797.6M650.9 1733.9H806.6M646.4 1738.5H811.1M655.4 1743H802.1M659.9 1747.6H797.6M673.4 1752.1H784.1M677.9 1756.7H779.6M682.4 1761.3H775.1M713.9 1765.8H743.6M716.1 1770.4H741.3M725.1 1774.9H732.3M709.4 1779.5H748.1" stroke="#f0244c" stroke-width="2.7" stroke-dasharray="2.7 1.8" fill="none"/>
</g>
</g>
<g id="v3R">
<path d="M1529.6 1270L1529.5 1271.5L1529.5 1273L1529.4 1274.5L1529.3 1276L1529.2 1277.5L1529.2 1279L1529.1 1280.5L1529.1 1282L1529 1283.5L1529 1285L1529 1286.5L1529 1288L1529 1289.5L1529 1291L1529 1292.5L1529 1294L1529 1295.5L1529 1297L1529 1298.5L1529 1300L1529 1301.5L1529 1303L1529 1304.5L1529 1306L1529 1307.5L1529 1309L1529 1310.5L1529 1312L1529 1313.5L1528.9 1315L1528.9 1316.5L1528.9 1318L1528.9 1319.5L1528.9 1321L1528.9 1322.5L1528.9 1324L1528.9 1325.5L1528.9 1327L1528.9 1328.5L1528.9 1330L1528.9 1331.5L1528.9 1333L1528.9 1334.5L1528.9 1336L1528.9 1337.5L1528.9 1339L1528.9 1340.5L1528.9 1342L1528.9 1343.5L1528.9 1345L1528.9 1346.5L1528.9 1348L1528.9 1349.5L1528.9 1351L1528.9 1352.5L1528.9 1354L1528.9 1355.5L1528.9 1357L1528.9 1358.5L1528.9 1360L1528.9 1361.5L1528.9 1363L1528.9 1364.5L1528.9 1366L1528.9 1367.5L1528.9 1369L1528.9 1370.5L1528.9 1372L1528.9 1373.5L1528.9 1375L1528.9 1376.5L1528.9 1378L1528.9 1379.5L1528.9 1381L1528.9 1382.5L1528.9 1384L1528.9 1385.5L1528.9 1387L1528.9 1388.5L1528.9 1390L1528.9 1391.5L1528.9 1393L1528.9 1394.5L1528.9 1396L1528.9 1397.5L1528.9 1399L1528.9 1400.5L1528.9 1402L1528.9 1403.5L1528.9 1405L1528.9 1406.5L1528.9 1408L1528.9 1409.5L1528.9 1411L1528.9 1412.5L1528.9 1414L1528.9 1415.5L1528.9 1417L1528.9 1418.5L1528.9 1420L1528.9 1421.5L1528.9 1423L1528.9 1424.5L1528.9 1426L1528.9 1427.5L1528.9 1429L1528.9 1430.5L1528.9 1432L1528.9 1433.5L1528.9 1435L1528.9 1436.5L1528.9 1438L1528.9 1439.5L1528.9 1441L1528.9 1442.5L1528.9 1444L1528.9 1445.5L1528.9 1447L1528.9 1448.5L1528.9 1450L1528.9 1451.5L1528.9 1453L1528.9 1454.5L1528.9 1456L1528.9 1457.5L1528.9 1459L1528.9 1460.5L1528.9 1462L1528.9 1463.5L1528.9 1465L1528.9 1466.5L1528.9 1468L1528.9 1469.5L1528.9 1471L1528.9 1472.5L1528.9 1474L1528.9 1475.5L1528.9 1477L1528.9 1478.5L1528.9 1480L1528.9 1481.5L1528.9 1483L1528.9 1484.5L1528.9 1486L1528.9 1487.5L1528.9 1489L1528.9 1490.5L1528.9 1492L1528.9 1493.5L1528.9 1495L1528.9 1496.5L1528.9 1498L1528.9 1499.5L1528.9 1501L1528.9 1502.5L1528.9 1504L1528.9 1505.5L1528.9 1507L1528.9 1508.5L1528.9 1510L1528.9 1511.5L1528.8 1513L1528.8 1514.5L1528.8 1516L1528.8 1517.5L1528.8 1519L1528.8 1520.5L1528.8 1522L1528.8 1523.5L1528.8 1525L1528.8 1526.5L1528.8 1528L1528.8 1529.5L1528.8 1531L1528.8 1532.5L1528.8 1534L1528.8 1535.5L1528.8 1537L1528.7 1538.5L1528.6 1540L1528.4 1541.5L1528 1543L1527.4 1544.5L1526.7 1546L1526 1547.5L1525.2 1549L1524.4 1550.5L1523.8 1552L1523.3 1553.5L1522.9 1555L1522.7 1556.5L1522.6 1558L1522.6 1559.5L1522.6 1561L1522.6 1562.5L1522.6 1564L1522.6 1565.5L1522.6 1567L1522.6 1568.5L1522.6 1570L1522.6 1571.5L1522.6 1573L1522.6 1574.5L1522.6 1576L1522.6 1577.5L1522.6 1579L1522.6 1580.5L1522.6 1582L1522.6 1583.5L1522.6 1585L1522.6 1586.5L1522.6 1588L1522.6 1589.5L1522.6 1591L1522.6 1592.5L1522.6 1594L1522.6 1595.5L1522.6 1597L1522.6 1598.5L1522.5 1600L1522.4 1601.5L1522.3 1603L1522 1604.5L1521.7 1606L1521.3 1607.5L1520.9 1609L1520.5 1610.5L1520 1612L1519.5 1613.5L1519 1615L1518.6 1616.5L1518.2 1618L1517.8 1619.5L1517.4 1621L1517.1 1622.5L1516.9 1624L1516.6 1625.5L1516.4 1627L1516.2 1628.5L1515.9 1630L1515.7 1631.5L1515.4 1633L1515.1 1634.5L1514.7 1636L1514.3 1637.5L1513.7 1639L1512.9 1640.5L1511.8 1642L1510.4 1643.5L1508.8 1645L1507 1646.5L1505.1 1648L1503.3 1649.5L1501.6 1651L1499.9 1652.5L1498.2 1654L1496.6 1655.5L1494.9 1657L1493.3 1658.5L1491.6 1660L1490 1661.5L1488.5 1663L1486.9 1664.5L1485.4 1666L1483.9 1667.5L1482.4 1669L1480.8 1670.5L1479.2 1672L1477.6 1673.5L1475.9 1675L1474.1 1676.5L1472.2 1678L1470.1 1679.5L1468 1681L1465.8 1682.5L1463.4 1684L1461 1685.5L1458.4 1687L1455.6 1688.5L1452.8 1690L1449.7 1691.5L1446.6 1693L1443.2 1694.5L1439.7 1696L1435.9 1697.5L1431.9 1699L1427.5 1700.5L1422.7 1702L1417.3 1703.5L1411.5 1705L1405.2 1706.5L1398.5 1708L1391.5 1709.5L1384 1711L1376 1712.5L1367.6 1714L1358.7 1715.5L1349.2 1717L1339.2 1718.5L1328.7 1720L1317.6 1721.5L1305.8 1723L1293.4 1724.5L1280.4 1726L1266.8 1727.5L1252.3 1729L1236.8 1730.5L1220.4 1732L1204.1 1733.5L1189.7 1735L1179.4 1736.5L1174.4 1738L1175.2 1739.5L1180.6 1741L1188.8 1742.5L1197.7 1744L1206 1745.5L1212.9 1747L1218.7 1748.5L1224 1750L1229.7 1751.5L1236.6 1753L1244.8 1754.5L1254.4 1756L1265.4 1757.5L1277.7 1759L1291.1 1760.5L1305.5 1762L1320.9 1763.5L1336.7 1765L1352.8 1766.5L1368.6 1768L1383.9 1769.5L1398.4 1771L1412 1772.5L1424.8 1774L1436.6 1775.5L1447.5 1777L1457.3 1778.5L1466 1780L1473.7 1781.5L1480.6 1783L1486.7 1784.5L1492.2 1786L1497 1787.5L1501.4 1789L1505.2 1790.5L1508.6 1792L1511.7 1793.5L1514.4 1795L1516.8 1796.5L1518.9 1798L1520.8 1799.5L1522.3 1801L1523.7 1802.5L1525 1804L1526.2 1805.5L1527.3 1807L1528.2 1808.5L1528.9 1810L1529.4 1811.5L1529.6 1813L1529.6 1813L1529.8 1811.5L1530.3 1810L1531 1808.5L1531.9 1807L1533 1805.5L1534.2 1804L1535.5 1802.5L1536.9 1801L1538.4 1799.5L1540.3 1798L1542.4 1796.5L1544.8 1795L1547.5 1793.5L1550.6 1792L1554 1790.5L1557.8 1789L1562.2 1787.5L1567 1786L1572.5 1784.5L1578.6 1783L1585.5 1781.5L1593.2 1780L1601.9 1778.5L1611.7 1777L1622.6 1775.5L1634.4 1774L1647.2 1772.5L1660.8 1771L1675.3 1769.5L1690.6 1768L1706.4 1766.5L1722.5 1765L1738.3 1763.5L1753.7 1762L1768.1 1760.5L1781.5 1759L1793.8 1757.5L1804.8 1756L1814.4 1754.5L1822.6 1753L1829.5 1751.5L1835.2 1750L1840.5 1748.5L1846.3 1747L1853.2 1745.5L1861.5 1744L1870.4 1742.5L1878.6 1741L1884 1739.5L1884.8 1738L1879.8 1736.5L1869.5 1735L1855.1 1733.5L1838.8 1732L1822.4 1730.5L1806.9 1729L1792.4 1727.5L1778.8 1726L1765.8 1724.5L1753.4 1723L1741.6 1721.5L1730.5 1720L1720 1718.5L1710 1717L1700.5 1715.5L1691.6 1714L1683.2 1712.5L1675.2 1711L1667.7 1709.5L1660.7 1708L1654 1706.5L1647.7 1705L1641.9 1703.5L1636.5 1702L1631.7 1700.5L1627.3 1699L1623.3 1697.5L1619.5 1696L1616 1694.5L1612.6 1693L1609.5 1691.5L1606.4 1690L1603.6 1688.5L1600.8 1687L1598.2 1685.5L1595.8 1684L1593.4 1682.5L1591.2 1681L1589.1 1679.5L1587 1678L1585.1 1676.5L1583.3 1675L1581.6 1673.5L1580 1672L1578.4 1670.5L1576.8 1669L1575.3 1667.5L1573.8 1666L1572.3 1664.5L1570.7 1663L1569.2 1661.5L1567.6 1660L1565.9 1658.5L1564.3 1657L1562.6 1655.5L1561 1654L1559.3 1652.5L1557.6 1651L1555.9 1649.5L1554.1 1648L1552.2 1646.5L1550.4 1645L1548.8 1643.5L1547.4 1642L1546.3 1640.5L1545.5 1639L1544.9 1637.5L1544.5 1636L1544.1 1634.5L1543.8 1633L1543.5 1631.5L1543.3 1630L1543 1628.5L1542.8 1627L1542.6 1625.5L1542.3 1624L1542.1 1622.5L1541.8 1621L1541.4 1619.5L1541 1618L1540.6 1616.5L1540.2 1615L1539.7 1613.5L1539.2 1612L1538.7 1610.5L1538.3 1609L1537.9 1607.5L1537.5 1606L1537.2 1604.5L1536.9 1603L1536.8 1601.5L1536.7 1600L1536.6 1598.5L1536.6 1597L1536.6 1595.5L1536.6 1594L1536.6 1592.5L1536.6 1591L1536.6 1589.5L1536.6 1588L1536.6 1586.5L1536.6 1585L1536.6 1583.5L1536.6 1582L1536.6 1580.5L1536.6 1579L1536.6 1577.5L1536.6 1576L1536.6 1574.5L1536.6 1573L1536.6 1571.5L1536.6 1570L1536.6 1568.5L1536.6 1567L1536.6 1565.5L1536.6 1564L1536.6 1562.5L1536.6 1561L1536.6 1559.5L1536.6 1558L1536.5 1556.5L1536.3 1555L1535.9 1553.5L1535.4 1552L1534.8 1550.5L1534 1549L1533.2 1547.5L1532.5 1546L1531.8 1544.5L1531.2 1543L1530.8 1541.5L1530.6 1540L1530.5 1538.5L1530.4 1537L1530.4 1535.5L1530.4 1534L1530.4 1532.5L1530.4 1531L1530.4 1529.5L1530.4 1528L1530.4 1526.5L1530.4 1525L1530.4 1523.5L1530.4 1522L1530.4 1520.5L1530.4 1519L1530.4 1517.5L1530.4 1516L1530.4 1514.5L1530.4 1513L1530.3 1511.5L1530.3 1510L1530.3 1508.5L1530.3 1507L1530.3 1505.5L1530.3 1504L1530.3 1502.5L1530.3 1501L1530.3 1499.5L1530.3 1498L1530.3 1496.5L1530.3 1495L1530.3 1493.5L1530.3 1492L1530.3 1490.5L1530.3 1489L1530.3 1487.5L1530.3 1486L1530.3 1484.5L1530.3 1483L1530.3 1481.5L1530.3 1480L1530.3 1478.5L1530.3 1477L1530.3 1475.5L1530.3 1474L1530.3 1472.5L1530.3 1471L1530.3 1469.5L1530.3 1468L1530.3 1466.5L1530.3 1465L1530.3 1463.5L1530.3 1462L1530.3 1460.5L1530.3 1459L1530.3 1457.5L1530.3 1456L1530.3 1454.5L1530.3 1453L1530.3 1451.5L1530.3 1450L1530.3 1448.5L1530.3 1447L1530.3 1445.5L1530.3 1444L1530.3 1442.5L1530.3 1441L1530.3 1439.5L1530.3 1438L1530.3 1436.5L1530.3 1435L1530.3 1433.5L1530.3 1432L1530.3 1430.5L1530.3 1429L1530.3 1427.5L1530.3 1426L1530.3 1424.5L1530.3 1423L1530.3 1421.5L1530.3 1420L1530.3 1418.5L1530.3 1417L1530.3 1415.5L1530.3 1414L1530.3 1412.5L1530.3 1411L1530.3 1409.5L1530.3 1408L1530.3 1406.5L1530.3 1405L1530.3 1403.5L1530.3 1402L1530.3 1400.5L1530.3 1399L1530.3 1397.5L1530.3 1396L1530.3 1394.5L1530.3 1393L1530.3 1391.5L1530.3 1390L1530.3 1388.5L1530.3 1387L1530.3 1385.5L1530.3 1384L1530.3 1382.5L1530.3 1381L1530.3 1379.5L1530.3 1378L1530.3 1376.5L1530.3 1375L1530.3 1373.5L1530.3 1372L1530.3 1370.5L1530.3 1369L1530.3 1367.5L1530.3 1366L1530.3 1364.5L1530.3 1363L1530.3 1361.5L1530.3 1360L1530.3 1358.5L1530.3 1357L1530.3 1355.5L1530.3 1354L1530.3 1352.5L1530.3 1351L1530.3 1349.5L1530.3 1348L1530.3 1346.5L1530.3 1345L1530.3 1343.5L1530.3 1342L1530.3 1340.5L1530.3 1339L1530.3 1337.5L1530.3 1336L1530.3 1334.5L1530.3 1333L1530.3 1331.5L1530.3 1330L1530.3 1328.5L1530.3 1327L1530.3 1325.5L1530.3 1324L1530.3 1322.5L1530.3 1321L1530.3 1319.5L1530.3 1318L1530.3 1316.5L1530.3 1315L1530.2 1313.5L1530.2 1312L1530.2 1310.5L1530.2 1309L1530.2 1307.5L1530.2 1306L1530.2 1304.5L1530.2 1303L1530.2 1301.5L1530.2 1300L1530.2 1298.5L1530.2 1297L1530.2 1295.5L1530.2 1294L1530.2 1292.5L1530.2 1291L1530.2 1289.5L1530.2 1288L1530.2 1286.5L1530.2 1285L1530.2 1283.5L1530.1 1282L1530.1 1280.5L1530 1279L1530 1277.5L1529.9 1276L1529.8 1274.5L1529.7 1273L1529.7 1271.5L1529.6 1270Z" fill="#c8f0d0"/>
<g filter="url(#sb)">
<path d="M1489.8 1660.4H1569.4M1489.8 1665H1569.4M1489.8 1669.6H1569.4M1489.8 1674.1H1569.4M1489.8 1678.7H1569.4M1489.8 1683.2H1569.4M1455.9 1687.8H1603.2M1455.9 1692.4H1603.2M1448.1 1696.9H1611M1442.9 1701.5H1616.2M1403.9 1706H1655.2M1403.9 1710.6H1655.2M1380.5 1715.2H1678.6M1354.5 1719.7H1704.6M1336.3 1724.3H1722.8M1292.1 1728.8H1767M1237.5 1733.4H1821.6M1193.3 1738H1865.8M1193.3 1742.5H1865.8M1198.5 1747.1H1860.6M1214.1 1751.6H1845M1247.9 1756.2H1811.2M1302.5 1760.8H1756.6M1354.5 1765.3H1704.6M1409.1 1769.9H1650M1450.8 1774.4H1608.4M1479.3 1779H1579.8M1489.8 1783.6H1569.4" stroke="#52cc68" stroke-width="4.6" fill="none" opacity="1.0"/>
<path d="M1476.8 1678.7H1582.4M1388.3 1706H1670.8M1149.1 1738H1910" stroke="#52cc68" stroke-width="3.2" fill="none" opacity="1.0"/>
<path d="M1489.8 1660.4H1569.4M1489.8 1665H1569.4M1489.8 1669.6H1569.4M1489.8 1674.1H1569.4M1476.8 1678.7H1582.4M1489.8 1683.2H1569.4M1455.9 1687.8H1603.2M1455.9 1692.4H1603.2M1448.1 1696.9H1611M1442.9 1701.5H1616.2M1388.3 1706H1670.8M1403.9 1710.6H1655.2M1380.5 1715.2H1678.6M1354.5 1719.7H1704.6M1336.3 1724.3H1722.8M1292.1 1728.8H1767M1237.5 1733.4H1821.6M1149.1 1738H1910M1193.3 1742.5H1865.8M1198.5 1747.1H1860.6M1214.1 1751.6H1845M1247.9 1756.2H1811.2M1302.5 1760.8H1756.6M1354.5 1765.3H1704.6M1409.1 1769.9H1650M1450.8 1774.4H1608.4M1479.3 1779H1579.8M1489.8 1783.6H1569.4" stroke="#3cc455" stroke-width="3.2" stroke-dasharray="1.7 0.9" fill="none"/>
<path d="M1522.7 1610.3H1536.5M1522.7 1614.8H1536.5M1520.1 1619.4H1539M1520.1 1624H1539M1517.6 1628.5H1541.6M1515 1633.1H1544.1M1515 1637.6H1544.1M1502.3 1642.2H1556.9M1502.3 1646.8H1556.9M1502.3 1651.3H1556.9M1502.3 1655.9H1556.9M1515 1788.1H1544.1M1515 1792.7H1544.1M1522.7 1797.2H1536.5M1522.7 1801.8H1536.5" stroke="#74dc86" stroke-width="4.6" fill="none" opacity="0.85"/>
<path d="M1522.7 1555.6H1536.5M1522.7 1573.8H1536.5M1517.6 1592H1541.6M1517.6 1610.3H1541.6M1507.4 1788.1H1551.8" stroke="#74dc86" stroke-width="3" fill="none" opacity="0.85"/>
<path d="M1527.8 1286.5H1531.4M1527.8 1295.6H1531.4M1527.8 1300.2H1531.4M1527.8 1364H1531.4M1527.8 1396H1531.4M1527.8 1409.6H1531.4M1527.8 1423.3H1531.4M1527.8 1432.4H1531.4M1527.8 1441.6H1531.4M1527.8 1459.8H1531.4M1527.8 1464.4H1531.4M1527.8 1478H1531.4M1525.2 1487.2H1533.9M1527.8 1491.7H1531.4M1527.8 1496.3H1531.4M1527.8 1505.4H1531.4M1527.8 1514.5H1531.4M1527.8 1528.2H1531.4M1527.8 1532.8H1531.4M1527.8 1551H1531.4M1522.7 1555.6H1536.5M1527.8 1560.1H1531.4M1525.2 1564.7H1533.9M1525.2 1569.2H1533.9M1522.7 1573.8H1536.5M1525.2 1578.4H1533.9M1525.2 1582.9H1533.9M1525.2 1587.5H1533.9M1517.6 1592H1541.6M1525.2 1596.6H1533.9M1525.2 1601.2H1533.9M1525.2 1605.7H1533.9M1517.6 1610.3H1541.6M1522.7 1614.8H1536.5M1520.1 1619.4H1539M1520.1 1624H1539M1517.6 1628.5H1541.6M1515 1633.1H1544.1M1515 1637.6H1544.1M1502.3 1642.2H1556.9M1502.3 1646.8H1556.9M1502.3 1651.3H1556.9M1502.3 1655.9H1556.9M1507.4 1788.1H1551.8M1515 1792.7H1544.1M1522.7 1797.2H1536.5M1522.7 1801.8H1536.5" stroke="#2cba48" stroke-width="3" stroke-dasharray="3.6 1.5" fill="none"/>
</g>
</g>
<g id="v4L">
<path d="M728.7 1900L728.6 1901.5L728.5 1903L728.3 1904.5L728.2 1906L728 1907.5L727.9 1909L727.7 1910.5L727.5 1912L727.4 1913.5L727.2 1915L727 1916.5L726.8 1918L726.6 1919.5L726.3 1921L726.1 1922.5L725.8 1924L725.6 1925.5L725.4 1927L725.2 1928.5L724.9 1930L724.7 1931.5L724.5 1933L724.3 1934.5L724.1 1936L723.8 1937.5L723.6 1939L723.4 1940.5L723.1 1942L722.9 1943.5L722.6 1945L722.4 1946.5L722.1 1948L721.8 1949.5L721.5 1951L721.2 1952.5L720.9 1954L720.6 1955.5L720.2 1957L719.9 1958.5L719.5 1960L719.1 1961.5L718.7 1963L718.3 1964.5L717.9 1966L717.4 1967.5L717 1969L716.5 1970.5L716 1972L715.6 1973.5L715.1 1975L714.6 1976.5L714.1 1978L713.6 1979.5L713.2 1981L712.7 1982.5L712.2 1984L711.7 1985.5L711.2 1987L710.8 1988.5L710.4 1990L710.1 1991.5L709.8 1993L709.5 1994.5L709.2 1996L708.9 1997.5L708.6 1999L708.2 2000.5L707.8 2002L707.4 2003.5L707 2005L706.5 2006.5L706.1 2008L705.5 2009.5L705 2011L704.4 2012.5L703.8 2014L703.1 2015.5L702.4 2017L701.7 2018.5L700.9 2020L700.1 2021.5L699.3 2023L698.5 2024.5L697.6 2026L696.6 2027.5L695.6 2029L694.6 2030.5L693.5 2032L692.4 2033.5L691.2 2035L689.9 2036.5L688.7 2038L687.4 2039.5L686.1 2041L684.8 2042.5L683.4 2044L682.1 2045.5L680.7 2047L679.4 2048.5L678 2050L676.6 2051.5L675.1 2053L673.5 2054.5L671.9 2056L670.2 2057.5L668.3 2059L666.3 2060.5L664.1 2062L661.7 2063.5L659.1 2065L656.4 2066.5L653.5 2068L650.5 2069.5L647.3 2071L644 2072.5L640.6 2074L637.3 2075.5L634 2077L630.8 2078.5L627.6 2080L624.6 2081.5L621.6 2083L618.6 2084.5L615.6 2086L612.5 2087.5L609.3 2089L606 2090.5L602.7 2092L599.3 2093.5L596 2095L592.7 2096.5L589.5 2098L586.3 2099.5L583.2 2101L580.1 2102.5L577.1 2104L574.1 2105.5L571.2 2107L568.2 2108.5L565.2 2110L562.3 2111.5L559.3 2113L556.3 2114.5L553.3 2116L550.3 2117.5L547.2 2119L544.1 2120.5L540.9 2122L537.6 2123.5L534.3 2125L531 2126.5L527.6 2128L524.1 2129.5L520.5 2131L516.9 2132.5L513.2 2134L509.4 2135.5L505.5 2137L501.5 2138.5L497.4 2140L493.2 2141.5L489 2143L484.6 2144.5L480.3 2146L476 2147.5L471.7 2149L467.4 2150.5L463.2 2152L459.1 2153.5L455 2155L451 2156.5L447.2 2158L443.4 2159.5L439.9 2161L436.5 2162.5L433.2 2164L430.1 2165.5L427.2 2167L424.4 2168.5L421.7 2170L419.3 2171.5L417.1 2173L415.1 2174.5L413.3 2176L411.7 2177.5L410.2 2179L408.9 2180.5L407.6 2182L406.4 2183.5L405.2 2185L404.1 2186.5L403.1 2188L402.1 2189.5L401.2 2191L400.3 2192.5L399.3 2194L398.4 2195.5L397.3 2197L396.1 2198.5L394.8 2200L393.3 2201.5L391.7 2203L390.1 2204.5L388.4 2206L386.7 2207.5L385 2209L383.4 2210.5L381.7 2212L380 2213.5L378.4 2215L376.8 2216.5L375.3 2218L373.9 2219.5L372.6 2221L371.5 2222.5L370.6 2224L369.7 2225.5L368.9 2227L368.3 2228.5L368 2230L367.8 2231.5L367.9 2233L368.3 2234.5L369 2236L369.8 2237.5L371 2239L372.4 2240.5L374.2 2242L376.4 2243.5L379.1 2245L382.1 2246.5L385.4 2248L389 2249.5L392.8 2251L396.8 2252.5L400.9 2254L405.2 2255.5L409.6 2257L414.2 2258.5L418.9 2260L423.8 2261.5L428.8 2263L433.8 2264.5L438.9 2266L443.9 2267.5L448.9 2269L454 2270.5L459.2 2272L464.4 2273.5L469.6 2275L475 2276.5L480.4 2278L486 2279.5L491.5 2281L497 2282.5L502.5 2284L507.9 2285.5L513.2 2287L518.6 2288.5L524.1 2290L529.8 2291.5L535.7 2293L541.6 2294.5L547.5 2296L553.3 2297.5L559 2299L564.6 2300.5L570.2 2302L575.8 2303.5L581.4 2305L586.9 2306.5L592.3 2308L597.7 2309.5L603 2311L608.3 2312.5L613.7 2314L619.1 2315.5L624.4 2317L629.6 2318.5L634.7 2320L639.5 2321.5L644.2 2323L648.8 2324.5L653.4 2326L657.8 2327.5L662.2 2329L666.5 2330.5L670.7 2332L674.7 2333.5L678.5 2335L682.2 2336.5L685.7 2338L689 2339.5L692.2 2341L695.2 2342.5L698 2344L700.6 2345.5L703.1 2347L705.4 2348.5L707.5 2350L709.4 2351.5L711.1 2353L712.5 2354.5L713.9 2356L715.1 2357.5L716.3 2359L717.4 2360.5L718.4 2362L719.4 2363.5L720.5 2365L721.4 2366.5L722.4 2368L723.3 2369.5L724.2 2371L725.1 2372.5L725.9 2374L726.7 2375.5L727.5 2377L728.2 2378.5L728.7 2379.4L728.7 2379.4L729.2 2378.5L729.9 2377L730.7 2375.5L731.5 2374L732.3 2372.5L733.2 2371L734.1 2369.5L735 2368L736 2366.5L736.9 2365L738 2363.5L739 2362L740 2360.5L741.1 2359L742.3 2357.5L743.5 2356L744.9 2354.5L746.3 2353L748 2351.5L749.9 2350L752 2348.5L754.3 2347L756.8 2345.5L759.4 2344L762.2 2342.5L765.2 2341L768.4 2339.5L771.7 2338L775.2 2336.5L778.9 2335L782.7 2333.5L786.7 2332L790.9 2330.5L795.2 2329L799.6 2327.5L804 2326L808.6 2324.5L813.2 2323L817.9 2321.5L822.7 2320L827.8 2318.5L833 2317L838.3 2315.5L843.7 2314L849.1 2312.5L854.4 2311L859.7 2309.5L865.1 2308L870.5 2306.5L876 2305L881.6 2303.5L887.2 2302L892.8 2300.5L898.4 2299L904.1 2297.5L909.9 2296L915.8 2294.5L921.7 2293L927.6 2291.5L933.3 2290L938.8 2288.5L944.2 2287L949.5 2285.5L954.9 2284L960.4 2282.5L965.9 2281L971.4 2279.5L977 2278L982.4 2276.5L987.8 2275L993 2273.5L998.2 2272L1003.4 2270.5L1008.5 2269L1013.5 2267.5L1018.5 2266L1023.6 2264.5L1028.6 2263L1033.6 2261.5L1038.5 2260L1043.2 2258.5L1047.8 2257L1052.2 2255.5L1056.5 2254L1060.6 2252.5L1064.6 2251L1068.4 2249.5L1072 2248L1075.3 2246.5L1078.3 2245L1081 2243.5L1083.2 2242L1085 2240.5L1086.4 2239L1087.6 2237.5L1088.4 2236L1089.1 2234.5L1089.5 2233L1089.6 2231.5L1089.4 2230L1089.1 2228.5L1088.5 2227L1087.7 2225.5L1086.8 2224L1085.9 2222.5L1084.8 2221L1083.5 2219.5L1082.1 2218L1080.6 2216.5L1079 2215L1077.4 2213.5L1075.7 2212L1074 2210.5L1072.4 2209L1070.7 2207.5L1069 2206L1067.3 2204.5L1065.7 2203L1064.1 2201.5L1062.6 2200L1061.3 2198.5L1060.1 2197L1059 2195.5L1058.1 2194L1057.1 2192.5L1056.2 2191L1055.3 2189.5L1054.3 2188L1053.3 2186.5L1052.2 2185L1051 2183.5L1049.8 2182L1048.5 2180.5L1047.2 2179L1045.7 2177.5L1044.1 2176L1042.3 2174.5L1040.3 2173L1038.1 2171.5L1035.7 2170L1033 2168.5L1030.2 2167L1027.3 2165.5L1024.2 2164L1020.9 2162.5L1017.5 2161L1014 2159.5L1010.2 2158L1006.4 2156.5L1002.4 2155L998.3 2153.5L994.2 2152L990 2150.5L985.7 2149L981.4 2147.5L977.1 2146L972.8 2144.5L968.4 2143L964.2 2141.5L960 2140L955.9 2138.5L951.9 2137L948 2135.5L944.2 2134L940.5 2132.5L936.9 2131L933.3 2129.5L929.8 2128L926.4 2126.5L923.1 2125L919.8 2123.5L916.5 2122L913.3 2120.5L910.2 2119L907.1 2117.5L904.1 2116L901.1 2114.5L898.1 2113L895.1 2111.5L892.2 2110L889.2 2108.5L886.2 2107L883.3 2105.5L880.3 2104L877.3 2102.5L874.2 2101L871.1 2099.5L867.9 2098L864.7 2096.5L861.4 2095L858.1 2093.5L854.7 2092L851.4 2090.5L848.1 2089L844.9 2087.5L841.8 2086L838.8 2084.5L835.8 2083L832.8 2081.5L829.8 2080L826.6 2078.5L823.4 2077L820.1 2075.5L816.8 2074L813.4 2072.5L810.1 2071L806.9 2069.5L803.9 2068L801 2066.5L798.3 2065L795.7 2063.5L793.3 2062L791.1 2060.5L789.1 2059L787.2 2057.5L785.5 2056L783.9 2054.5L782.3 2053L780.8 2051.5L779.4 2050L778 2048.5L776.7 2047L775.3 2045.5L774 2044L772.6 2042.5L771.3 2041L770 2039.5L768.7 2038L767.5 2036.5L766.2 2035L765 2033.5L763.9 2032L762.8 2030.5L761.8 2029L760.8 2027.5L759.8 2026L758.9 2024.5L758.1 2023L757.3 2021.5L756.5 2020L755.7 2018.5L755 2017L754.3 2015.5L753.6 2014L753 2012.5L752.4 2011L751.9 2009.5L751.3 2008L750.9 2006.5L750.4 2005L750 2003.5L749.6 2002L749.2 2000.5L748.8 1999L748.5 1997.5L748.2 1996L747.9 1994.5L747.6 1993L747.3 1991.5L747 1990L746.6 1988.5L746.2 1987L745.7 1985.5L745.2 1984L744.7 1982.5L744.2 1981L743.8 1979.5L743.3 1978L742.8 1976.5L742.3 1975L741.8 1973.5L741.4 1972L740.9 1970.5L740.4 1969L740 1967.5L739.5 1966L739.1 1964.5L738.7 1963L738.3 1961.5L737.9 1960L737.5 1958.5L737.2 1957L736.8 1955.5L736.5 1954L736.2 1952.5L735.9 1951L735.6 1949.5L735.3 1948L735 1946.5L734.8 1945L734.5 1943.5L734.3 1942L734 1940.5L733.8 1939L733.6 1937.5L733.3 1936L733.1 1934.5L732.9 1933L732.7 1931.5L732.5 1930L732.2 1928.5L732 1927L731.8 1925.5L731.6 1924L731.3 1922.5L731.1 1921L730.8 1919.5L730.6 1918L730.4 1916.5L730.2 1915L730 1913.5L729.9 1912L729.7 1910.5L729.5 1909L729.4 1907.5L729.2 1906L729.1 1904.5L728.9 1903L728.8 1901.5L728.7 1900Z" fill="#ffced3"/>
<g filter="url(#sb)">
<path d="M723.1 2045.4H734.3M723.1 2049.9H734.3M723.1 2059.1H734.3M723.1 2063.6H734.3M723.1 2072.7H734.3M721 2077.3H736.5M721 2081.9H736.5M723.1 2086.4H734.3M721 2091H736.5M721 2095.5H736.5M718.8 2100.1H738.6M718.8 2104.7H738.6M714.5 2109.2H742.9M714.5 2113.8H742.9M714.5 2118.3H742.9M714.5 2122.9H742.9M714.5 2127.5H742.9M714.5 2132H742.9M710.2 2136.6H747.2M705.9 2141.1H751.5M705.9 2145.7H751.5M705.9 2150.3H751.5M705.9 2154.8H751.5M705.9 2159.4H751.5M705.9 2163.9H751.5M701.6 2168.5H755.8M701.6 2173.1H755.8M701.6 2177.6H755.8M705.9 2182.2H751.5M701.6 2186.7H755.8M701.6 2191.3H755.8M705.9 2195.9H751.5M714.5 2200.4H742.9M710.2 2205H747.2M701.6 2209.5H755.8M701.6 2214.1H755.8M701.6 2218.7H755.8M701.6 2223.2H755.8M701.6 2227.8H755.8M697.3 2232.3H760.1M697.3 2236.9H760.1M697.3 2241.5H760.1M697.3 2246H760.1M697.3 2250.6H760.1M697.3 2255.1H760.1M697.3 2259.7H760.1M701.6 2264.3H755.8M705.9 2268.8H751.5M705.9 2273.4H751.5M705.9 2277.9H751.5M705.9 2282.5H751.5M705.9 2287.1H751.5M710.2 2291.6H747.2M710.2 2296.2H747.2M710.2 2300.7H747.2M710.2 2305.3H747.2M710.2 2309.9H747.2M718.8 2314.4H738.6M721 2319H736.5" stroke="#f98896" stroke-width="4.6" fill="none" opacity="0.85"/>
<path d="M723.1 2036.3H734.3M714.5 2077.3H742.9M714.5 2091H742.9M710.2 2109.2H747.2M693 2177.6H764.4M688.7 2191.3H768.7M693 2209.5H764.4M693 2223.2H764.4M693 2232.3H764.4M693 2259.7H764.4" stroke="#f98896" stroke-width="2.7" fill="none" opacity="0.85"/>
<path d="M727.4 1940.5H730M727.4 1945.1H730M727.4 1963.3H730M727.4 1986.1H730M727.4 1990.7H730M727.4 1995.2H730M727.4 1999.8H730M723.1 2036.3H734.3M727.4 2040.8H730M723.1 2045.4H734.3M723.1 2049.9H734.3M727.4 2054.5H730M723.1 2059.1H734.3M723.1 2063.6H734.3M727.4 2068.2H730M723.1 2072.7H734.3M714.5 2077.3H742.9M721 2081.9H736.5M723.1 2086.4H734.3M714.5 2091H742.9M721 2095.5H736.5M718.8 2100.1H738.6M718.8 2104.7H738.6M710.2 2109.2H747.2M714.5 2113.8H742.9M714.5 2118.3H742.9M714.5 2122.9H742.9M714.5 2127.5H742.9M714.5 2132H742.9M710.2 2136.6H747.2M705.9 2141.1H751.5M705.9 2145.7H751.5M705.9 2150.3H751.5M705.9 2154.8H751.5M705.9 2159.4H751.5M705.9 2163.9H751.5M701.6 2168.5H755.8M701.6 2173.1H755.8M693 2177.6H764.4M705.9 2182.2H751.5M701.6 2186.7H755.8M688.7 2191.3H768.7M705.9 2195.9H751.5M714.5 2200.4H742.9M710.2 2205H747.2M693 2209.5H764.4M701.6 2214.1H755.8M701.6 2218.7H755.8M693 2223.2H764.4M701.6 2227.8H755.8M693 2232.3H764.4M697.3 2236.9H760.1M697.3 2241.5H760.1M697.3 2246H760.1M697.3 2250.6H760.1M697.3 2255.1H760.1M693 2259.7H764.4M701.6 2264.3H755.8M705.9 2268.8H751.5M705.9 2273.4H751.5M705.9 2277.9H751.5M705.9 2282.5H751.5M705.9 2287.1H751.5M710.2 2291.6H747.2M710.2 2296.2H747.2M710.2 2300.7H747.2M710.2 2305.3H747.2M710.2 2309.9H747.2M718.8 2314.4H738.6M721 2319H736.5" stroke="#f0244c" stroke-width="2.7" stroke-dasharray="2.6 1.7" fill="none"/>
</g>
</g>
<g id="v4R">
<path d="M1529.6 1841L1529.5 1842.5L1529.5 1844L1529.4 1845.5L1529.4 1847L1529.3 1848.5L1529.2 1850L1529.2 1851.5L1529.1 1853L1529.1 1854.5L1529 1856L1529 1857.5L1528.9 1859L1528.9 1860.5L1528.8 1862L1528.8 1863.5L1528.7 1865L1528.7 1866.5L1528.7 1868L1528.6 1869.5L1528.6 1871L1528.5 1872.5L1528.5 1874L1528.5 1875.5L1528.5 1877L1528.4 1878.5L1528.4 1880L1528.4 1881.5L1528.4 1883L1528.3 1884.5L1528.3 1886L1528.3 1887.5L1528.3 1889L1528.2 1890.5L1528.2 1892L1528.2 1893.5L1528.2 1895L1528.1 1896.5L1528.1 1898L1528 1899.5L1528 1901L1527.9 1902.5L1527.8 1904L1527.7 1905.5L1527.6 1907L1527.4 1908.5L1527.2 1910L1526.9 1911.5L1526.7 1913L1526.4 1914.5L1526.1 1916L1525.9 1917.5L1525.6 1919L1525.4 1920.5L1525.1 1922L1524.9 1923.5L1524.6 1925L1524.4 1926.5L1524.1 1928L1523.9 1929.5L1523.7 1931L1523.5 1932.5L1523.3 1934L1523.1 1935.5L1522.9 1937L1522.8 1938.5L1522.7 1940L1522.5 1941.5L1522.4 1943L1522.3 1944.5L1522.2 1946L1522.1 1947.5L1522 1949L1521.9 1950.5L1521.8 1952L1521.7 1953.5L1521.6 1955L1521.4 1956.5L1521.2 1958L1521.1 1959.5L1520.9 1961L1520.7 1962.5L1520.5 1964L1520.3 1965.5L1520.1 1967L1519.9 1968.5L1519.6 1970L1519.4 1971.5L1519.1 1973L1518.8 1974.5L1518.4 1976L1518.1 1977.5L1517.7 1979L1517.4 1980.5L1517 1982L1516.6 1983.5L1516.2 1985L1515.8 1986.5L1515.4 1988L1515 1989.5L1514.6 1991L1514.2 1992.5L1513.8 1994L1513.3 1995.5L1512.9 1997L1512.4 1998.5L1511.8 2000L1511.2 2001.5L1510.6 2003L1510 2004.5L1509.3 2006L1508.6 2007.5L1507.8 2009L1507 2010.5L1506.1 2012L1505.2 2013.5L1504.3 2015L1503.2 2016.5L1502.2 2018L1501 2019.5L1499.8 2021L1498.4 2022.5L1497 2024L1495.5 2025.5L1493.9 2027L1492.3 2028.5L1490.6 2030L1488.8 2031.5L1487 2033L1485.1 2034.5L1483.2 2036L1481.3 2037.5L1479.4 2039L1477.4 2040.5L1475.5 2042L1473.5 2043.5L1471.4 2045L1469.4 2046.5L1467.4 2048L1465.4 2049.5L1463.4 2051L1461.3 2052.5L1459.4 2054L1457.4 2055.5L1455.4 2057L1453.4 2058.5L1451.5 2060L1449.5 2061.5L1447.6 2063L1445.6 2064.5L1443.6 2066L1441.6 2067.5L1439.6 2069L1437.6 2070.5L1435.5 2072L1433.3 2073.5L1431.1 2075L1428.8 2076.5L1426.4 2078L1424 2079.5L1421.5 2081L1418.9 2082.5L1416.3 2084L1413.7 2085.5L1411.1 2087L1408.5 2088.5L1405.9 2090L1403.3 2091.5L1400.6 2093L1397.9 2094.5L1395.1 2096L1392.3 2097.5L1389.3 2099L1386.3 2100.5L1383.1 2102L1379.8 2103.5L1376.4 2105L1372.9 2106.5L1369.4 2108L1365.9 2109.5L1362.2 2111L1358.6 2112.5L1354.8 2114L1351 2115.5L1347.1 2117L1343 2118.5L1338.9 2120L1334.6 2121.5L1330.3 2123L1326 2124.5L1321.7 2126L1317.3 2127.5L1313 2129L1308.8 2130.5L1304.6 2132L1300.6 2133.5L1296.6 2135L1292.8 2136.5L1289.1 2138L1285.4 2139.5L1281.8 2141L1278.3 2142.5L1274.8 2144L1271.5 2145.5L1268.1 2147L1264.9 2148.5L1261.6 2150L1258.4 2151.5L1255.3 2153L1252.2 2154.5L1249.2 2156L1246.1 2157.5L1243.2 2159L1240.2 2160.5L1237.3 2162L1234.5 2163.5L1231.7 2165L1228.9 2166.5L1226.2 2168L1223.4 2169.5L1220.8 2171L1218.1 2172.5L1215.5 2174L1212.8 2175.5L1210.2 2177L1207.6 2178.5L1205.1 2180L1202.5 2181.5L1200.1 2183L1197.7 2184.5L1195.3 2186L1193 2187.5L1190.7 2189L1188.5 2190.5L1186.3 2192L1184.2 2193.5L1182.2 2195L1180.3 2196.5L1178.5 2198L1176.9 2199.5L1175.5 2201L1174.1 2202.5L1172.7 2204L1171.5 2205.5L1170.3 2207L1169.4 2208.5L1168.6 2210L1168.1 2211.5L1167.9 2213L1167.9 2214.5L1168.3 2216L1168.9 2217.5L1169.8 2219L1170.8 2220.5L1172.1 2222L1173.5 2223.5L1175 2225L1176.9 2226.5L1179.1 2228L1181.7 2229.5L1184.6 2231L1187.8 2232.5L1191.2 2234L1194.6 2235.5L1198.2 2237L1201.8 2238.5L1205.6 2240L1209.4 2241.5L1213.4 2243L1217.5 2244.5L1221.6 2246L1225.9 2247.5L1230.2 2249L1234.5 2250.5L1238.9 2252L1243.2 2253.5L1247.5 2255L1251.7 2256.5L1256 2258L1260.3 2259.5L1264.6 2261L1268.9 2262.5L1273.2 2264L1277.5 2265.5L1281.9 2267L1286.2 2268.5L1290.6 2270L1294.9 2271.5L1299 2273L1302.9 2274.5L1306.5 2276L1310 2277.5L1313.3 2279L1316.6 2280.5L1319.8 2282L1323.1 2283.5L1326.3 2285L1329.6 2286.5L1332.9 2288L1336.2 2289.5L1339.6 2291L1343 2292.5L1346.5 2294L1350 2295.5L1353.7 2297L1357.4 2298.5L1361.2 2300L1365.1 2301.5L1369.1 2303L1373.2 2304.5L1377.3 2306L1381.6 2307.5L1386.1 2309L1390.8 2310.5L1395.6 2312L1400.6 2313.5L1405.8 2315L1411.1 2316.5L1416.5 2318L1422 2319.5L1427.5 2321L1433.2 2322.5L1438.8 2324L1444.5 2325.5L1450.1 2327L1455.7 2328.5L1461 2330L1466.1 2331.5L1471 2333L1475.4 2334.5L1479.4 2336L1483.1 2337.5L1486.5 2339L1489.7 2340.5L1492.6 2342L1495.3 2343.5L1497.7 2345L1500 2346.5L1502.1 2348L1504 2349.5L1505.7 2351L1507.3 2352.5L1508.8 2354L1510.2 2355.5L1511.5 2357L1512.7 2358.5L1513.8 2360L1514.9 2361.5L1516 2363L1517.1 2364.5L1518.2 2366L1519.3 2367.5L1520.4 2369L1521.5 2370.5L1522.6 2372L1523.7 2373.5L1524.8 2375L1525.9 2376.5L1527 2378L1528 2379.5L1529.1 2381L1529.6 2381.6L1529.6 2381.6L1530.1 2381L1531.2 2379.5L1532.2 2378L1533.3 2376.5L1534.4 2375L1535.5 2373.5L1536.6 2372L1537.7 2370.5L1538.8 2369L1539.9 2367.5L1541 2366L1542.1 2364.5L1543.2 2363L1544.3 2361.5L1545.4 2360L1546.5 2358.5L1547.7 2357L1549 2355.5L1550.4 2354L1551.9 2352.5L1553.5 2351L1555.2 2349.5L1557.1 2348L1559.2 2346.5L1561.5 2345L1563.9 2343.5L1566.6 2342L1569.5 2340.5L1572.7 2339L1576.1 2337.5L1579.8 2336L1583.8 2334.5L1588.2 2333L1593.1 2331.5L1598.2 2330L1603.5 2328.5L1609.1 2327L1614.7 2325.5L1620.4 2324L1626 2322.5L1631.7 2321L1637.2 2319.5L1642.7 2318L1648.1 2316.5L1653.4 2315L1658.6 2313.5L1663.6 2312L1668.4 2310.5L1673.1 2309L1677.6 2307.5L1681.9 2306L1686 2304.5L1690.1 2303L1694.1 2301.5L1698 2300L1701.8 2298.5L1705.5 2297L1709.2 2295.5L1712.7 2294L1716.2 2292.5L1719.6 2291L1723 2289.5L1726.3 2288L1729.6 2286.5L1732.9 2285L1736.1 2283.5L1739.4 2282L1742.6 2280.5L1745.9 2279L1749.2 2277.5L1752.7 2276L1756.3 2274.5L1760.2 2273L1764.3 2271.5L1768.6 2270L1773 2268.5L1777.3 2267L1781.7 2265.5L1786 2264L1790.3 2262.5L1794.6 2261L1798.9 2259.5L1803.2 2258L1807.5 2256.5L1811.7 2255L1816 2253.5L1820.3 2252L1824.7 2250.5L1829 2249L1833.3 2247.5L1837.6 2246L1841.7 2244.5L1845.8 2243L1849.8 2241.5L1853.6 2240L1857.4 2238.5L1861 2237L1864.6 2235.5L1868 2234L1871.4 2232.5L1874.6 2231L1877.5 2229.5L1880.1 2228L1882.3 2226.5L1884.2 2225L1885.7 2223.5L1887.1 2222L1888.4 2220.5L1889.4 2219L1890.3 2217.5L1890.9 2216L1891.3 2214.5L1891.3 2213L1891.1 2211.5L1890.6 2210L1889.8 2208.5L1888.9 2207L1887.7 2205.5L1886.5 2204L1885.1 2202.5L1883.7 2201L1882.3 2199.5L1880.7 2198L1878.9 2196.5L1877 2195L1875 2193.5L1872.9 2192L1870.7 2190.5L1868.5 2189L1866.2 2187.5L1863.9 2186L1861.5 2184.5L1859.1 2183L1856.7 2181.5L1854.1 2180L1851.6 2178.5L1849 2177L1846.4 2175.5L1843.7 2174L1841.1 2172.5L1838.4 2171L1835.8 2169.5L1833 2168L1830.3 2166.5L1827.5 2165L1824.7 2163.5L1821.9 2162L1819 2160.5L1816 2159L1813.1 2157.5L1810 2156L1807 2154.5L1803.9 2153L1800.8 2151.5L1797.6 2150L1794.3 2148.5L1791.1 2147L1787.7 2145.5L1784.4 2144L1780.9 2142.5L1777.4 2141L1773.8 2139.5L1770.1 2138L1766.4 2136.5L1762.6 2135L1758.6 2133.5L1754.6 2132L1750.4 2130.5L1746.2 2129L1741.9 2127.5L1737.5 2126L1733.2 2124.5L1728.9 2123L1724.6 2121.5L1720.3 2120L1716.2 2118.5L1712.1 2117L1708.2 2115.5L1704.4 2114L1700.6 2112.5L1697 2111L1693.3 2109.5L1689.8 2108L1686.3 2106.5L1682.8 2105L1679.4 2103.5L1676.1 2102L1672.9 2100.5L1669.9 2099L1666.9 2097.5L1664.1 2096L1661.3 2094.5L1658.6 2093L1655.9 2091.5L1653.3 2090L1650.7 2088.5L1648.1 2087L1645.5 2085.5L1642.9 2084L1640.3 2082.5L1637.7 2081L1635.2 2079.5L1632.8 2078L1630.4 2076.5L1628.1 2075L1625.9 2073.5L1623.7 2072L1621.6 2070.5L1619.6 2069L1617.6 2067.5L1615.6 2066L1613.6 2064.5L1611.6 2063L1609.7 2061.5L1607.7 2060L1605.8 2058.5L1603.8 2057L1601.8 2055.5L1599.8 2054L1597.9 2052.5L1595.8 2051L1593.8 2049.5L1591.8 2048L1589.8 2046.5L1587.8 2045L1585.7 2043.5L1583.7 2042L1581.8 2040.5L1579.8 2039L1577.9 2037.5L1576 2036L1574.1 2034.5L1572.2 2033L1570.4 2031.5L1568.6 2030L1566.9 2028.5L1565.3 2027L1563.7 2025.5L1562.2 2024L1560.8 2022.5L1559.4 2021L1558.2 2019.5L1557 2018L1556 2016.5L1554.9 2015L1554 2013.5L1553.1 2012L1552.2 2010.5L1551.4 2009L1550.6 2007.5L1549.9 2006L1549.2 2004.5L1548.6 2003L1548 2001.5L1547.4 2000L1546.8 1998.5L1546.3 1997L1545.9 1995.5L1545.4 1994L1545 1992.5L1544.6 1991L1544.2 1989.5L1543.8 1988L1543.4 1986.5L1543 1985L1542.6 1983.5L1542.2 1982L1541.8 1980.5L1541.5 1979L1541.1 1977.5L1540.8 1976L1540.4 1974.5L1540.1 1973L1539.8 1971.5L1539.6 1970L1539.3 1968.5L1539.1 1967L1538.9 1965.5L1538.7 1964L1538.5 1962.5L1538.3 1961L1538.1 1959.5L1538 1958L1537.8 1956.5L1537.6 1955L1537.5 1953.5L1537.4 1952L1537.3 1950.5L1537.2 1949L1537.1 1947.5L1537 1946L1536.9 1944.5L1536.8 1943L1536.7 1941.5L1536.5 1940L1536.4 1938.5L1536.3 1937L1536.1 1935.5L1535.9 1934L1535.7 1932.5L1535.5 1931L1535.3 1929.5L1535.1 1928L1534.8 1926.5L1534.6 1925L1534.3 1923.5L1534.1 1922L1533.8 1920.5L1533.6 1919L1533.3 1917.5L1533.1 1916L1532.8 1914.5L1532.5 1913L1532.3 1911.5L1532 1910L1531.8 1908.5L1531.6 1907L1531.5 1905.5L1531.4 1904L1531.3 1902.5L1531.2 1901L1531.2 1899.5L1531.1 1898L1531.1 1896.5L1531 1895L1531 1893.5L1531 1892L1531 1890.5L1530.9 1889L1530.9 1887.5L1530.9 1886L1530.9 1884.5L1530.8 1883L1530.8 1881.5L1530.8 1880L1530.8 1878.5L1530.7 1877L1530.7 1875.5L1530.7 1874L1530.7 1872.5L1530.6 1871L1530.6 1869.5L1530.5 1868L1530.5 1866.5L1530.5 1865L1530.4 1863.5L1530.4 1862L1530.3 1860.5L1530.3 1859L1530.2 1857.5L1530.2 1856L1530.1 1854.5L1530.1 1853L1530 1851.5L1530 1850L1529.9 1848.5L1529.8 1847L1529.8 1845.5L1529.7 1844L1529.7 1842.5L1529.6 1841Z" fill="#c8f0d0"/>
<g filter="url(#sb)">
<path d="M1522.7 2022.7H1536.5M1522.7 2027.2H1536.5M1520.1 2031.8H1539M1517.6 2036.4H1541.6M1517.6 2040.9H1541.6M1512.5 2045.5H1546.7M1512.5 2050H1546.7M1512.5 2054.6H1546.7M1512.5 2059.2H1546.7M1512.5 2063.7H1546.7M1497.2 2068.3H1562M1497.2 2072.8H1562M1497.2 2077.4H1562M1507.4 2082H1551.8M1497.2 2086.5H1562M1497.2 2091.1H1562M1481.9 2095.6H1577.3M1481.9 2100.2H1577.3M1492.1 2104.8H1567.1M1476.8 2109.3H1582.4M1476.8 2113.9H1582.4M1476.8 2118.4H1582.4M1461.5 2123H1597.7M1456.4 2127.6H1602.8M1446.2 2132.1H1613M1446.2 2136.7H1613M1466.6 2141.2H1592.6M1441.1 2145.8H1618.1M1436 2150.4H1623.2M1436 2154.9H1623.2M1436 2159.5H1623.2M1441.1 2164H1618.1M1430.9 2168.6H1628.3M1430.9 2173.2H1628.3M1430.9 2177.7H1628.3M1441.1 2182.3H1618.1M1425.8 2186.8H1633.4M1405.4 2191.4H1653.8M1405.4 2196H1653.8M1405.4 2200.5H1653.8M1425.8 2205.1H1633.4M1436 2209.6H1623.2M1410.5 2214.2H1648.7M1410.5 2218.8H1648.7M1410.5 2223.3H1648.7M1436 2227.9H1623.2M1420.7 2232.4H1638.5M1420.7 2237H1638.5M1420.7 2241.6H1638.5M1420.7 2246.1H1638.5M1441.1 2250.7H1618.1M1441.1 2255.2H1618.1M1441.1 2259.8H1618.1M1441.1 2264.4H1618.1M1451.3 2268.9H1607.9M1456.4 2273.5H1602.8M1461.5 2278H1597.7M1461.5 2282.6H1597.7M1471.7 2287.2H1587.5M1466.6 2291.7H1592.6M1466.6 2296.3H1592.6M1476.8 2300.8H1582.4M1481.9 2305.4H1577.3M1481.9 2310H1577.3M1487 2314.5H1572.2M1492.1 2319.1H1567.1M1492.1 2323.6H1567.1M1497.2 2328.2H1562M1517.6 2332.8H1541.6" stroke="#74dc86" stroke-width="4.6" fill="none" opacity="0.85"/>
<path d="M1522.7 1936H1536.5M1515 2022.7H1544.1M1512.5 2036.4H1546.7M1507.4 2045.5H1551.8M1502.3 2054.6H1556.9M1481.9 2077.4H1577.3M1476.8 2095.6H1582.4M1441.1 2136.7H1618.1M1425.8 2159.5H1633.4M1420.7 2168.6H1638.5M1420.7 2177.7H1638.5M1395.2 2196H1664M1390.1 2223.3H1669.1M1405.4 2232.4H1653.8M1436 2255.2H1623.2M1436 2264.4H1623.2M1461.5 2291.7H1597.7M1476.8 2310H1582.4M1522.7 2346.4H1536.5M1520.1 2355.6H1539" stroke="#74dc86" stroke-width="3" fill="none" opacity="0.85"/>
<path d="M1527.8 1863.1H1531.4M1527.8 1908.7H1531.4M1527.8 1917.8H1531.4M1522.7 1936H1536.5M1525.2 1940.6H1533.9M1527.8 1945.2H1531.4M1527.8 1949.7H1531.4M1525.2 1954.3H1533.9M1527.8 1958.8H1531.4M1525.2 1963.4H1533.9M1527.8 1968H1531.4M1525.2 1972.5H1533.9M1527.8 1977.1H1531.4M1525.2 1981.6H1533.9M1525.2 1986.2H1533.9M1525.2 1990.8H1533.9M1525.2 1995.3H1533.9M1525.2 1999.9H1533.9M1525.2 2004.4H1533.9M1527.8 2009H1531.4M1525.2 2013.6H1533.9M1525.2 2018.1H1533.9M1515 2022.7H1544.1M1522.7 2027.2H1536.5M1520.1 2031.8H1539M1512.5 2036.4H1546.7M1517.6 2040.9H1541.6M1507.4 2045.5H1551.8M1512.5 2050H1546.7M1502.3 2054.6H1556.9M1512.5 2059.2H1546.7M1512.5 2063.7H1546.7M1497.2 2068.3H1562M1497.2 2072.8H1562M1481.9 2077.4H1577.3M1507.4 2082H1551.8M1497.2 2086.5H1562M1497.2 2091.1H1562M1476.8 2095.6H1582.4M1481.9 2100.2H1577.3M1492.1 2104.8H1567.1M1476.8 2109.3H1582.4M1476.8 2113.9H1582.4M1476.8 2118.4H1582.4M1461.5 2123H1597.7M1456.4 2127.6H1602.8M1446.2 2132.1H1613M1441.1 2136.7H1618.1M1466.6 2141.2H1592.6M1441.1 2145.8H1618.1M1436 2150.4H1623.2M1436 2154.9H1623.2M1425.8 2159.5H1633.4M1441.1 2164H1618.1M1420.7 2168.6H1638.5M1430.9 2173.2H1628.3M1420.7 2177.7H1638.5M1441.1 2182.3H1618.1M1425.8 2186.8H1633.4M1405.4 2191.4H1653.8M1395.2 2196H1664M1405.4 2200.5H1653.8M1425.8 2205.1H1633.4M1436 2209.6H1623.2M1410.5 2214.2H1648.7M1410.5 2218.8H1648.7M1390.1 2223.3H1669.1M1436 2227.9H1623.2M1405.4 2232.4H1653.8M1420.7 2237H1638.5M1420.7 2241.6H1638.5M1420.7 2246.1H1638.5M1441.1 2250.7H1618.1M1436 2255.2H1623.2M1441.1 2259.8H1618.1M1436 2264.4H1623.2M1451.3 2268.9H1607.9M1456.4 2273.5H1602.8M1461.5 2278H1597.7M1461.5 2282.6H1597.7M1471.7 2287.2H1587.5M1461.5 2291.7H1597.7M1466.6 2296.3H1592.6M1476.8 2300.8H1582.4M1481.9 2305.4H1577.3M1476.8 2310H1582.4M1487 2314.5H1572.2M1492.1 2319.1H1567.1M1492.1 2323.6H1567.1M1497.2 2328.2H1562M1517.6 2332.8H1541.6M1525.2 2337.3H1533.9M1525.2 2341.9H1533.9M1522.7 2346.4H1536.5M1525.2 2351H1533.9M1520.1 2355.6H1539M1525.2 2360.1H1533.9M1527.8 2364.7H1531.4" stroke="#2cba48" stroke-width="3" stroke-dasharray="3.6 1.5" fill="none"/>
</g>
</g>
<line x1="330.5" y1="636.3" x2="1930" y2="636.3" stroke="#d6d6d6" stroke-width="1.6"/>
<line x1="330.5" y1="1229.6" x2="1930" y2="1229.6" stroke="#d6d6d6" stroke-width="1.6"/>
<line x1="330.5" y1="1820" x2="1930" y2="1820" stroke="#d6d6d6" stroke-width="1.6"/>
<line x1="1129" y1="45.5" x2="1129" y2="2413.5" stroke="#d6d6d6" stroke-width="1.6"/>
<line x1="1129" y1="2425" x2="1129" y2="2477" stroke="#d6d6d6" stroke-width="1.6"/>
<g stroke="#fff" stroke-width="8.6" opacity="0.5" fill="none" stroke-linecap="round" stroke-linejoin="round">
<path d="M728.7 318.2V392.6M728.7 445.6V519.7M667.5 318.2H789.9M667.5 519.7H789.9M664.9 392.6H792.5V445.6H664.9ZM664.9 422H792.5"/>
</g>
<g stroke="#000" stroke-width="4.4" opacity="1" fill="none" stroke-linecap="round" stroke-linejoin="round">
<path d="M728.7 318.2V392.6M728.7 445.6V519.7M667.5 318.2H789.9M667.5 519.7H789.9M664.9 392.6H792.5V445.6H664.9ZM664.9 422H792.5"/>
</g>
<g stroke="#fff" stroke-width="8.6" opacity="0.5" fill="none" stroke-linecap="round" stroke-linejoin="round">
<path d="M1529.6 360.8V418M1529.6 455.9V512.9M1468.4 360.8H1590.8M1468.4 512.9H1590.8M1465.8 418H1593.4V455.9H1465.8ZM1465.8 438.1H1593.4"/>
</g>
<g stroke="#000" stroke-width="4.4" opacity="1" fill="none" stroke-linecap="round" stroke-linejoin="round">
<path d="M1529.6 360.8V418M1529.6 455.9V512.9M1468.4 360.8H1590.8M1468.4 512.9H1590.8M1465.8 418H1593.4V455.9H1465.8ZM1465.8 438.1H1593.4"/>
</g>
<g stroke="#fff" stroke-width="8.6" opacity="0.5" fill="none" stroke-linecap="round" stroke-linejoin="round">
<path d="M728.7 920.6V1033.5M728.7 1112.2V1208M667.5 920.6H789.9M667.5 1208H789.9M664.9 1033.5H792.5V1112.2H664.9ZM664.9 1077H792.5"/>
</g>
<g stroke="#000" stroke-width="4.4" opacity="1" fill="none" stroke-linecap="round" stroke-linejoin="round">
<path d="M728.7 920.6V1033.5M728.7 1112.2V1208M667.5 920.6H789.9M667.5 1208H789.9M664.9 1033.5H792.5V1112.2H664.9ZM664.9 1077H792.5"/>
</g>
<g stroke="#fff" stroke-width="8.6" opacity="0.5" fill="none" stroke-linecap="round" stroke-linejoin="round">
<path d="M1529.6 983.8V1072.4M1529.6 1131.7V1207.9M1468.4 983.8H1590.8M1468.4 1207.9H1590.8M1465.8 1072.4H1593.4V1131.7H1465.8ZM1465.8 1107.2H1593.4"/>
</g>
<g stroke="#000" stroke-width="4.4" opacity="1" fill="none" stroke-linecap="round" stroke-linejoin="round">
<path d="M1529.6 983.8V1072.4M1529.6 1131.7V1207.9M1468.4 983.8H1590.8M1468.4 1207.9H1590.8M1465.8 1072.4H1593.4V1131.7H1465.8ZM1465.8 1107.2H1593.4"/>
</g>
<g stroke="#fff" stroke-width="8.6" opacity="0.5" fill="none" stroke-linecap="round" stroke-linejoin="round">
<path d="M728.7 1624.5V1694.3M728.7 1747.8V1784.9M667.5 1624.5H789.9M667.5 1784.9H789.9M664.9 1694.3H792.5V1747.8H664.9ZM664.9 1726.4H792.5"/>
</g>
<g stroke="#000" stroke-width="4.4" opacity="1" fill="none" stroke-linecap="round" stroke-linejoin="round">
<path d="M728.7 1624.5V1694.3M728.7 1747.8V1784.9M667.5 1624.5H789.9M667.5 1784.9H789.9M664.9 1694.3H792.5V1747.8H664.9ZM664.9 1726.4H792.5"/>
</g>
<g stroke="#fff" stroke-width="8.6" opacity="0.5" fill="none" stroke-linecap="round" stroke-linejoin="round">
<path d="M1529.6 1660.5V1715.5M1529.6 1751V1805.8M1468.4 1660.5H1590.8M1468.4 1805.8H1590.8M1465.8 1715.5H1593.4V1751H1465.8ZM1465.8 1735.5H1593.4"/>
</g>
<g stroke="#000" stroke-width="4.4" opacity="1" fill="none" stroke-linecap="round" stroke-linejoin="round">
<path d="M1529.6 1660.5V1715.5M1529.6 1751V1805.8M1468.4 1660.5H1590.8M1468.4 1805.8H1590.8M1465.8 1715.5H1593.4V1751H1465.8ZM1465.8 1735.5H1593.4"/>
</g>
<g stroke="#fff" stroke-width="8.6" opacity="0.5" fill="none" stroke-linecap="round" stroke-linejoin="round">
<path d="M728.7 2005V2152M728.7 2252V2374.2M667.5 2005H789.9M667.5 2374.2H789.9M664.9 2152H792.5V2252H664.9ZM664.9 2206.4H792.5"/>
</g>
<g stroke="#000" stroke-width="4.4" opacity="1" fill="none" stroke-linecap="round" stroke-linejoin="round">
<path d="M728.7 2005V2152M728.7 2252V2374.2M667.5 2005H789.9M667.5 2374.2H789.9M664.9 2152H792.5V2252H664.9ZM664.9 2206.4H792.5"/>
</g>
<g stroke="#fff" stroke-width="8.6" opacity="0.5" fill="none" stroke-linecap="round" stroke-linejoin="round">
<path d="M1529.6 2000.4V2148.2M1529.6 2246.8V2374.2M1468.4 2000.4H1590.8M1468.4 2374.2H1590.8M1465.8 2148.2H1593.4V2246.8H1465.8ZM1465.8 2199.7H1593.4"/>
</g>
<g stroke="#000" stroke-width="4.4" opacity="1" fill="none" stroke-linecap="round" stroke-linejoin="round">
<path d="M1529.6 2000.4V2148.2M1529.6 2246.8V2374.2M1468.4 2000.4H1590.8M1468.4 2374.2H1590.8M1465.8 2148.2H1593.4V2246.8H1465.8ZM1465.8 2199.7H1593.4"/>
</g>
<rect x="330.5" y="45.5" width="1599.5" height="2368" fill="none" stroke="#9a9a9a" stroke-width="2"/>
<g font-family="'Liberation Serif', 'Times New Roman', serif" font-size="36" fill="#000" stroke="#000" stroke-width="0.7">
<line x1="316.5" y1="84" x2="330.5" y2="84" stroke="#9a9a9a" stroke-width="1.8"/>
<text transform="translate(308.6 96.6) scale(0.952 1)" text-anchor="end">10.0</text>
<line x1="316.5" y1="242" x2="330.5" y2="242" stroke="#9a9a9a" stroke-width="1.8"/>
<text transform="translate(308.6 254.6) scale(0.952 1)" text-anchor="end">8.0</text>
<line x1="316.5" y1="400" x2="330.5" y2="400" stroke="#9a9a9a" stroke-width="1.8"/>
<text transform="translate(308.6 412.6) scale(0.952 1)" text-anchor="end">6.0</text>
<line x1="316.5" y1="557.1" x2="330.5" y2="557.1" stroke="#9a9a9a" stroke-width="1.8"/>
<text transform="translate(308.6 569.7) scale(0.952 1)" text-anchor="end">4.0</text>
<line x1="316.5" y1="697.8" x2="330.5" y2="697.8" stroke="#9a9a9a" stroke-width="1.8"/>
<text transform="translate(308.6 710.4) scale(0.952 1)" text-anchor="end">20.0</text>
<line x1="316.5" y1="816" x2="330.5" y2="816" stroke="#9a9a9a" stroke-width="1.8"/>
<text transform="translate(308.6 828.6) scale(0.952 1)" text-anchor="end">16.0</text>
<line x1="316.5" y1="933" x2="330.5" y2="933" stroke="#9a9a9a" stroke-width="1.8"/>
<text transform="translate(308.6 945.6) scale(0.952 1)" text-anchor="end">12.0</text>
<line x1="316.5" y1="1052.6" x2="330.5" y2="1052.6" stroke="#9a9a9a" stroke-width="1.8"/>
<text transform="translate(308.6 1065.2) scale(0.952 1)" text-anchor="end">8.0</text>
<line x1="316.5" y1="1170.8" x2="330.5" y2="1170.8" stroke="#9a9a9a" stroke-width="1.8"/>
<text transform="translate(308.6 1183.4) scale(0.952 1)" text-anchor="end">4.0</text>
<line x1="316.5" y1="1327.2" x2="330.5" y2="1327.2" stroke="#9a9a9a" stroke-width="1.8"/>
<text transform="translate(308.6 1339.8) scale(0.952 1)" text-anchor="end">14.0</text>
<line x1="316.5" y1="1423.5" x2="330.5" y2="1423.5" stroke="#9a9a9a" stroke-width="1.8"/>
<text transform="translate(308.6 1436.1) scale(0.952 1)" text-anchor="end">12.0</text>
<line x1="316.5" y1="1519.3" x2="330.5" y2="1519.3" stroke="#9a9a9a" stroke-width="1.8"/>
<text transform="translate(308.6 1531.9) scale(0.952 1)" text-anchor="end">10.0</text>
<line x1="316.5" y1="1614.8" x2="330.5" y2="1614.8" stroke="#9a9a9a" stroke-width="1.8"/>
<text transform="translate(308.6 1627.4) scale(0.952 1)" text-anchor="end">8.0</text>
<line x1="316.5" y1="1709.5" x2="330.5" y2="1709.5" stroke="#9a9a9a" stroke-width="1.8"/>
<text transform="translate(308.6 1722.1) scale(0.952 1)" text-anchor="end">6.0</text>
<line x1="316.5" y1="1805.6" x2="330.5" y2="1805.6" stroke="#9a9a9a" stroke-width="1.8"/>
<text transform="translate(308.6 1818.2) scale(0.952 1)" text-anchor="end">4.0</text>
<line x1="316.5" y1="1912.3" x2="330.5" y2="1912.3" stroke="#9a9a9a" stroke-width="1.8"/>
<text transform="translate(308.6 1924.9) scale(0.952 1)" text-anchor="end">11.0</text>
<line x1="316.5" y1="2040.1" x2="330.5" y2="2040.1" stroke="#9a9a9a" stroke-width="1.8"/>
<text transform="translate(308.6 2052.7) scale(0.952 1)" text-anchor="end">10.0</text>
<line x1="316.5" y1="2169.2" x2="330.5" y2="2169.2" stroke="#9a9a9a" stroke-width="1.8"/>
<text transform="translate(308.6 2181.8) scale(0.952 1)" text-anchor="end">9.0</text>
<line x1="316.5" y1="2298" x2="330.5" y2="2298" stroke="#9a9a9a" stroke-width="1.8"/>
<text transform="translate(308.6 2310.6) scale(0.952 1)" text-anchor="end">8.0</text>
<text x="71.7" y="354.3" textLength="162.8" lengthAdjust="spacingAndGlyphs">HbA1c (%)</text>
<text x="21.6" y="946.8" textLength="210.7" lengthAdjust="spacingAndGlyphs">PBG (mmol/L)</text>
<text x="21.6" y="1538.4" textLength="210.7" lengthAdjust="spacingAndGlyphs">FBG (mmol/L)</text>
<text x="87.9" y="2131.5" textLength="148.2" lengthAdjust="spacingAndGlyphs">TyG index</text>
<text x="625.6" y="2452" textLength="227.2" lengthAdjust="spacingAndGlyphs">arterial stiffness</text>
<text x="1395.5" y="2452" textLength="348.8" lengthAdjust="spacingAndGlyphs">without arterial stiffness</text>
</g>
</svg>
</body>
</html>
